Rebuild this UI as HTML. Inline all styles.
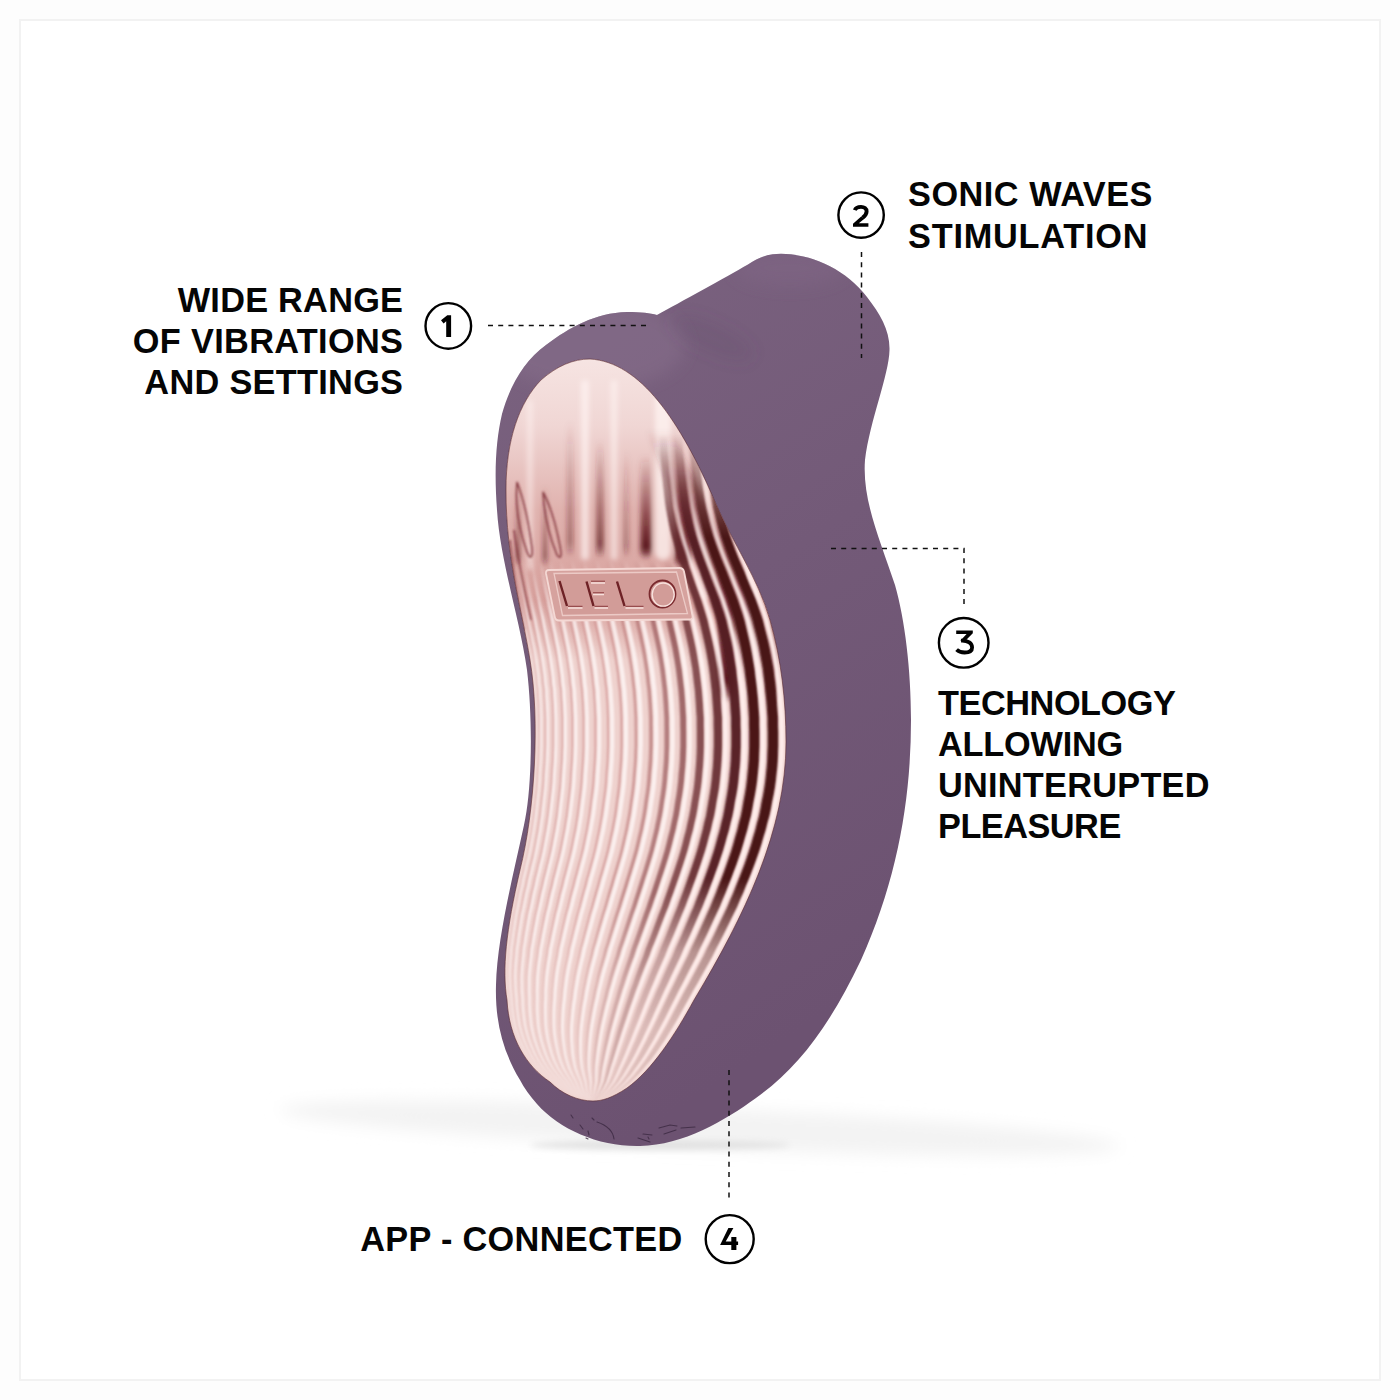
<!DOCTYPE html>
<html><head><meta charset="utf-8">
<style>
html,body{margin:0;padding:0;background:#fdfdfd;}
body{width:1400px;height:1400px;position:relative;overflow:hidden;font-family:"Liberation Sans",sans-serif;}
.frame{position:absolute;left:19px;top:19px;width:1358px;height:1358px;border:2px solid #f2f2f2;background:#fff;}
.t{position:absolute;font-weight:bold;font-size:34.3px;line-height:41px;color:#050505;white-space:nowrap;-webkit-font-smoothing:antialiased;}
.t span{display:block;}
svg{position:absolute;left:0;top:0;}
</style></head><body>
<div class="frame"></div>
<svg width="1400" height="1400" viewBox="0 0 1400 1400">
<defs>
<g id="rd"><path d="M538.5,354.0 537.5,361.0 532.7,368.0 529.4,375.0 526.7,382.0 524.6,389.0 522.9,396.0 521.1,403.0 519.6,410.0 518.1,417.0 516.8,424.0 515.5,431.0 514.6,438.0 513.4,445.0 512.5,452.0 511.9,459.0 511.2,466.0 510.6,473.0 510.1,480.0 509.9,487.0 509.6,494.0 509.4,501.0 509.4,508.0 509.5,515.0 509.5,522.0 509.7,529.0 510.1,536.0 510.6,543.0 511.2,550.0 511.8,557.0 512.5,564.0 513.5,571.0 514.6,578.0 515.7,585.0 516.9,592.0 518.4,599.0 519.6,606.0 521.1,613.0 522.6,620.0 523.9,627.0 525.4,634.0 526.6,641.0 528.1,648.0 529.4,655.0 530.4,662.0 531.4,669.0 532.4,676.0 532.9,683.0 533.9,690.0 534.1,697.0 534.6,704.0 534.9,711.0 535.1,718.0 535.1,725.0 535.1,732.0 535.1,739.0 535.1,746.0 534.9,753.0 534.6,760.0 534.1,767.0 533.6,774.0 533.4,781.0 532.9,788.0 532.1,795.0 531.4,802.0 530.6,809.0 529.9,816.0 528.9,823.0 527.9,830.0 526.6,837.0 525.4,844.0 524.1,851.0 522.6,858.0 520.9,865.0 519.4,872.0 517.6,879.0 516.4,886.0 514.6,893.0 513.4,900.0 512.1,907.0 510.6,914.0 509.6,921.0 508.6,928.0 507.6,935.0 506.9,942.0 505.9,949.0 505.6,956.0 505.1,963.0 504.9,970.0 504.9,977.0 505.4,984.0 505.9,991.0 506.9,998.0 507.4,1005.0 508.3,1012.0 509.6,1019.0 511.1,1026.0 513.3,1033.0 516.1,1040.0 519.6,1047.0 523.3,1054.0 528.1,1061.0 534.1,1068.0 541.6,1075.0 550.5,1082.0 558.8,1089.0 571.8,1096.0 586.0,1100.0 586.0,1100.0 571.9,1096.0 559.0,1089.0 550.8,1082.0 541.8,1075.0 534.4,1068.0 528.4,1061.0 523.7,1054.0 519.9,1047.0 516.5,1040.0 513.7,1033.0 511.5,1026.0 510.0,1019.0 508.8,1012.0 507.8,1005.0 507.3,998.0 506.3,991.0 505.9,984.0 505.4,977.0 505.4,970.0 505.6,963.0 506.2,956.0 506.4,949.0 507.4,942.0 508.2,935.0 509.2,928.0 510.2,921.0 511.2,914.0 512.7,907.0 514.0,900.0 515.2,893.0 517.0,886.0 518.2,879.0 520.0,872.0 521.5,865.0 523.2,858.0 524.7,851.0 526.0,844.0 527.3,837.0 528.5,830.0 529.5,823.0 530.5,816.0 531.3,809.0 532.0,802.0 532.8,795.0 533.5,788.0 534.0,781.0 534.3,774.0 534.8,767.0 535.3,760.0 535.5,753.0 535.8,746.0 535.8,739.0 535.8,732.0 535.8,725.0 535.8,718.0 535.5,711.0 535.3,704.0 534.8,697.0 534.5,690.0 533.5,683.0 533.0,676.0 532.0,669.0 531.0,662.0 530.0,655.0 528.8,648.0 527.3,641.0 526.0,634.0 524.5,627.0 523.3,620.0 521.8,613.0 520.3,606.0 519.0,599.0 517.5,592.0 516.4,585.0 515.2,578.0 514.1,571.0 513.1,564.0 512.3,557.0 511.8,550.0 511.1,543.0 510.7,536.0 510.3,529.0 510.1,522.0 510.1,515.0 509.9,508.0 509.9,501.0 510.2,494.0 510.4,487.0 510.6,480.0 511.2,473.0 511.7,466.0 512.4,459.0 513.0,452.0 513.9,445.0 515.1,438.0 516.0,431.0 517.3,424.0 518.6,417.0 520.1,410.0 521.5,403.0 523.3,396.0 525.1,389.0 527.2,382.0 529.8,375.0 533.1,368.0 538.0,361.0 538.9,354.0Z" fill="#c88282" fill-opacity="0.55"/><path d="M540.9,354.0 540.0,361.0 535.2,368.0 532.0,375.0 529.4,382.0 527.3,389.0 525.6,396.0 523.8,403.0 522.4,410.0 521.0,417.0 519.7,424.0 518.4,431.0 517.5,438.0 516.4,445.0 515.5,452.0 514.9,459.0 514.2,466.0 513.7,473.0 513.2,480.0 513.0,487.0 512.7,494.0 512.5,501.0 512.5,508.0 512.7,515.0 512.7,522.0 512.9,529.0 513.4,536.0 513.8,543.0 514.6,550.0 515.1,557.0 515.9,564.0 517.0,571.0 518.1,578.0 519.2,585.0 520.4,592.0 521.9,599.0 523.2,606.0 524.7,613.0 526.2,620.0 527.5,627.0 529.0,634.0 530.2,641.0 531.7,648.0 533.0,655.0 534.0,662.0 535.0,669.0 536.0,676.0 536.5,683.0 537.5,690.0 537.7,697.0 538.2,704.0 538.5,711.0 538.7,718.0 538.7,725.0 538.8,732.0 538.8,739.0 538.8,746.0 538.5,753.0 538.3,760.0 537.8,767.0 537.2,774.0 537.0,781.0 536.5,788.0 535.7,795.0 535.0,802.0 534.2,809.0 533.4,816.0 532.4,823.0 531.4,830.0 530.2,837.0 528.9,844.0 527.6,851.0 526.1,858.0 524.4,865.0 522.8,872.0 521.1,879.0 519.8,886.0 518.0,893.0 516.7,900.0 515.5,907.0 513.9,914.0 512.9,921.0 511.9,928.0 510.8,935.0 510.0,942.0 509.0,949.0 508.7,956.0 508.1,963.0 507.8,970.0 507.8,977.0 508.2,984.0 508.6,991.0 509.6,998.0 510.0,1005.0 510.9,1012.0 512.1,1019.0 513.5,1026.0 515.7,1033.0 518.3,1040.0 521.7,1047.0 525.3,1054.0 529.9,1061.0 535.7,1068.0 543.0,1075.0 551.7,1082.0 559.7,1089.0 572.3,1096.0 586.2,1100.0 586.3,1100.0 572.5,1096.0 560.0,1089.0 552.1,1082.0 543.4,1075.0 536.2,1068.0 530.4,1061.0 525.9,1054.0 522.3,1047.0 519.0,1040.0 516.4,1033.0 514.2,1026.0 512.8,1019.0 511.7,1012.0 510.8,1005.0 510.4,998.0 509.5,991.0 509.1,984.0 508.7,977.0 508.7,970.0 509.1,963.0 509.6,956.0 509.9,949.0 511.0,942.0 511.8,935.0 512.8,928.0 513.9,921.0 514.9,914.0 516.5,907.0 517.8,900.0 519.1,893.0 520.8,886.0 522.1,879.0 523.9,872.0 525.4,865.0 527.2,858.0 528.7,851.0 530.0,844.0 531.2,837.0 532.5,830.0 533.5,823.0 534.5,816.0 535.3,809.0 536.0,802.0 536.8,795.0 537.6,788.0 538.1,781.0 538.3,774.0 538.8,767.0 539.3,760.0 539.6,753.0 539.8,746.0 539.8,739.0 539.8,732.0 539.8,725.0 539.8,718.0 539.6,711.0 539.3,704.0 538.8,697.0 538.6,690.0 537.6,683.0 537.1,676.0 536.1,669.0 535.1,662.0 534.1,655.0 532.8,648.0 531.3,641.0 530.1,634.0 528.5,627.0 527.3,620.0 525.8,613.0 524.3,606.0 523.0,599.0 521.5,592.0 520.3,585.0 519.1,578.0 518.0,571.0 516.9,564.0 516.1,557.0 515.6,550.0 514.8,543.0 514.4,536.0 513.9,529.0 513.7,522.0 513.7,515.0 513.5,508.0 513.5,501.0 513.7,494.0 513.9,487.0 514.1,480.0 514.6,473.0 515.1,466.0 515.8,459.0 516.4,452.0 517.3,445.0 518.4,438.0 519.3,431.0 520.5,424.0 521.8,417.0 523.3,410.0 524.7,403.0 526.4,396.0 528.1,389.0 530.2,382.0 532.8,375.0 536.0,368.0 540.7,361.0 541.6,354.0Z" fill="#c88282" fill-opacity="0.55"/><path d="M545.0,354.0 544.1,361.0 539.6,368.0 536.5,375.0 533.9,382.0 532.0,389.0 530.3,396.0 528.6,403.0 527.2,410.0 525.8,417.0 524.6,424.0 523.4,431.0 522.5,438.0 521.4,445.0 520.6,452.0 520.0,459.0 519.4,466.0 518.9,473.0 518.4,480.0 518.2,487.0 518.1,494.0 517.9,501.0 517.9,508.0 518.1,515.0 518.2,522.0 518.4,529.0 518.9,536.0 519.5,543.0 520.2,550.0 520.8,557.0 521.7,564.0 522.8,571.0 523.9,578.0 525.1,585.0 526.4,592.0 527.9,599.0 529.2,606.0 530.7,613.0 532.3,620.0 533.5,627.0 535.1,634.0 536.3,641.0 537.8,648.0 539.1,655.0 540.1,662.0 541.1,669.0 542.1,676.0 542.6,683.0 543.6,690.0 543.9,697.0 544.4,704.0 544.6,711.0 544.9,718.0 544.9,725.0 544.9,732.0 544.9,739.0 544.9,746.0 544.6,753.0 544.4,760.0 543.9,767.0 543.4,774.0 543.1,781.0 542.6,788.0 541.8,795.0 541.0,802.0 540.3,809.0 539.5,816.0 538.5,823.0 537.4,830.0 536.1,837.0 534.9,844.0 533.6,851.0 532.0,858.0 530.2,865.0 528.7,872.0 526.9,879.0 525.6,886.0 523.8,893.0 522.5,900.0 521.2,907.0 519.6,914.0 518.5,921.0 517.4,928.0 516.3,935.0 515.4,942.0 514.3,949.0 513.9,956.0 513.3,963.0 512.9,970.0 512.7,977.0 513.1,984.0 513.4,991.0 514.2,998.0 514.5,1005.0 515.3,1012.0 516.3,1019.0 517.6,1026.0 519.6,1033.0 522.1,1040.0 525.2,1047.0 528.6,1054.0 533.0,1061.0 538.5,1068.0 545.4,1075.0 553.8,1082.0 561.3,1089.0 573.3,1096.0 586.5,1100.0 586.6,1100.0 573.5,1096.0 561.7,1089.0 554.2,1082.0 546.0,1075.0 539.1,1068.0 533.7,1061.0 529.4,1054.0 526.0,1047.0 522.9,1040.0 520.5,1033.0 518.5,1026.0 517.3,1019.0 516.3,1012.0 515.5,1005.0 515.2,998.0 514.4,991.0 514.1,984.0 513.8,977.0 514.0,970.0 514.4,963.0 515.1,956.0 515.5,949.0 516.6,942.0 517.5,935.0 518.6,928.0 519.7,921.0 520.8,914.0 522.4,907.0 523.8,900.0 525.1,893.0 526.9,886.0 528.2,879.0 530.0,872.0 531.6,865.0 533.4,858.0 534.9,851.0 536.2,844.0 537.5,837.0 538.8,830.0 539.8,823.0 540.9,816.0 541.6,809.0 542.4,802.0 543.2,795.0 544.0,788.0 544.5,781.0 544.8,774.0 545.3,767.0 545.8,760.0 546.0,753.0 546.3,746.0 546.3,739.0 546.3,732.0 546.3,725.0 546.3,718.0 546.0,711.0 545.7,704.0 545.2,697.0 545.0,690.0 544.0,683.0 543.5,676.0 542.5,669.0 541.5,662.0 540.4,655.0 539.2,648.0 537.7,641.0 536.4,634.0 534.9,627.0 533.6,620.0 532.1,613.0 530.6,606.0 529.3,599.0 527.7,592.0 526.5,585.0 525.3,578.0 524.1,571.0 523.0,564.0 522.1,557.0 521.5,550.0 520.7,543.0 520.2,536.0 519.7,529.0 519.4,522.0 519.3,515.0 519.1,508.0 519.1,501.0 519.3,494.0 519.4,487.0 519.6,480.0 520.1,473.0 520.6,466.0 521.2,459.0 521.7,452.0 522.6,445.0 523.6,438.0 524.5,431.0 525.7,424.0 526.9,417.0 528.3,410.0 529.7,403.0 531.4,396.0 533.0,389.0 535.0,382.0 537.5,375.0 540.6,368.0 545.1,361.0 545.9,354.0Z" fill="#c88282" fill-opacity="0.55"/><path d="M550.2,354.0 549.3,361.0 545.0,368.0 542.1,375.0 539.7,382.0 537.8,389.0 536.2,396.0 534.6,403.0 533.2,410.0 531.9,417.0 530.7,424.0 529.6,431.0 528.8,438.0 527.8,445.0 527.0,452.0 526.4,459.0 525.9,466.0 525.4,473.0 525.0,480.0 524.9,487.0 524.7,494.0 524.6,501.0 524.7,508.0 524.9,515.0 525.0,522.0 525.4,529.0 525.9,536.0 526.5,543.0 527.3,550.0 528.0,557.0 528.9,564.0 530.1,571.0 531.3,578.0 532.6,585.0 533.9,592.0 535.4,599.0 536.8,606.0 538.3,613.0 539.9,620.0 541.2,627.0 542.7,634.0 544.0,641.0 545.5,648.0 546.7,655.0 547.8,662.0 548.8,669.0 549.8,676.0 550.3,683.0 551.3,690.0 551.6,697.0 552.1,704.0 552.3,711.0 552.6,718.0 552.6,725.0 552.6,732.0 552.6,739.0 552.6,746.0 552.4,753.0 552.1,760.0 551.6,767.0 551.1,774.0 550.8,781.0 550.3,788.0 549.5,795.0 548.7,802.0 547.9,809.0 547.1,816.0 546.0,823.0 545.0,830.0 543.7,837.0 542.4,844.0 541.0,851.0 539.5,858.0 537.7,865.0 536.1,872.0 534.3,879.0 532.9,886.0 531.1,893.0 529.7,900.0 528.3,907.0 526.7,914.0 525.5,921.0 524.3,928.0 523.1,935.0 522.2,942.0 521.0,949.0 520.5,956.0 519.7,963.0 519.2,970.0 519.0,977.0 519.1,984.0 519.3,991.0 520.0,998.0 520.1,1005.0 520.8,1012.0 521.7,1019.0 522.8,1026.0 524.5,1033.0 526.8,1040.0 529.7,1047.0 532.8,1054.0 536.8,1061.0 542.0,1068.0 548.5,1075.0 556.3,1082.0 563.4,1089.0 574.5,1096.0 586.9,1100.0 587.0,1100.0 574.8,1096.0 563.8,1089.0 556.9,1082.0 549.1,1075.0 542.7,1068.0 537.7,1061.0 533.7,1054.0 530.6,1047.0 527.8,1040.0 525.6,1033.0 523.8,1026.0 522.8,1019.0 521.9,1012.0 521.3,1005.0 521.2,998.0 520.5,991.0 520.4,984.0 520.3,977.0 520.6,970.0 521.1,963.0 521.9,956.0 522.4,949.0 523.6,942.0 524.6,935.0 525.7,928.0 526.9,921.0 528.1,914.0 529.8,907.0 531.2,900.0 532.6,893.0 534.4,886.0 535.8,879.0 537.6,872.0 539.2,865.0 541.0,858.0 542.6,851.0 543.9,844.0 545.2,837.0 546.5,830.0 547.6,823.0 548.7,816.0 549.5,809.0 550.3,802.0 551.1,795.0 551.9,788.0 552.4,781.0 552.7,774.0 553.2,767.0 553.7,760.0 554.0,753.0 554.2,746.0 554.2,739.0 554.2,732.0 554.2,725.0 554.2,718.0 553.9,711.0 553.7,704.0 553.2,697.0 552.9,690.0 551.9,683.0 551.4,676.0 550.4,669.0 549.4,662.0 548.3,655.0 547.1,648.0 545.6,641.0 544.3,634.0 542.8,627.0 541.5,620.0 539.9,613.0 538.4,606.0 537.0,599.0 535.4,592.0 534.1,585.0 532.9,578.0 531.6,571.0 530.4,564.0 529.5,557.0 528.8,550.0 528.0,543.0 527.4,536.0 526.8,529.0 526.5,522.0 526.4,515.0 526.1,508.0 526.0,501.0 526.1,494.0 526.2,487.0 526.4,480.0 526.8,473.0 527.2,466.0 527.8,459.0 528.3,452.0 529.1,445.0 530.1,438.0 530.9,431.0 532.0,424.0 533.2,417.0 534.5,410.0 535.8,403.0 537.4,396.0 539.0,389.0 540.9,382.0 543.2,375.0 546.2,368.0 550.4,361.0 551.3,354.0Z" fill="#c88282" fill-opacity="0.55"/><path d="M556.2,354.0 555.4,361.0 551.4,368.0 548.6,375.0 546.3,382.0 544.5,389.0 543.1,396.0 541.5,403.0 540.2,410.0 539.0,417.0 537.9,424.0 536.8,431.0 536.1,438.0 535.1,445.0 534.4,452.0 533.9,459.0 533.4,466.0 533.0,473.0 532.7,480.0 532.6,487.0 532.5,494.0 532.4,501.0 532.5,508.0 532.9,515.0 533.0,522.0 533.4,529.0 534.0,536.0 534.7,543.0 535.6,550.0 536.4,557.0 537.4,564.0 538.6,571.0 539.9,578.0 541.2,585.0 542.6,592.0 544.2,599.0 545.6,606.0 547.2,613.0 548.8,620.0 550.1,627.0 551.6,634.0 552.9,641.0 554.4,648.0 555.6,655.0 556.7,662.0 557.7,669.0 558.7,676.0 559.2,683.0 560.2,690.0 560.5,697.0 561.0,704.0 561.3,711.0 561.6,718.0 561.6,725.0 561.6,732.0 561.6,739.0 561.6,746.0 561.3,753.0 561.1,760.0 560.6,767.0 560.1,774.0 559.8,781.0 559.2,788.0 558.4,795.0 557.6,802.0 556.8,809.0 555.9,816.0 554.8,823.0 553.8,830.0 552.4,837.0 551.1,844.0 549.7,851.0 548.1,858.0 546.3,865.0 544.6,872.0 542.8,879.0 541.3,886.0 539.5,893.0 538.0,900.0 536.6,907.0 534.9,914.0 533.6,921.0 532.4,928.0 531.1,935.0 530.0,942.0 528.7,949.0 528.1,956.0 527.3,963.0 526.6,970.0 526.2,977.0 526.2,984.0 526.2,991.0 526.7,998.0 526.7,1005.0 527.2,1012.0 527.9,1019.0 528.8,1026.0 530.3,1033.0 532.3,1040.0 534.9,1047.0 537.7,1054.0 541.4,1061.0 546.1,1068.0 552.1,1075.0 559.3,1082.0 565.7,1089.0 576.0,1096.0 587.4,1100.0 587.5,1100.0 576.2,1096.0 566.2,1089.0 559.9,1082.0 552.8,1075.0 546.9,1068.0 542.3,1061.0 538.7,1054.0 535.9,1047.0 533.4,1040.0 531.4,1033.0 530.0,1026.0 529.1,1019.0 528.5,1012.0 528.0,1005.0 528.0,998.0 527.6,991.0 527.6,984.0 527.6,977.0 528.1,970.0 528.8,963.0 529.7,956.0 530.3,949.0 531.6,942.0 532.7,935.0 534.0,928.0 535.3,921.0 536.5,914.0 538.3,907.0 539.7,900.0 541.2,893.0 543.0,886.0 544.5,879.0 546.4,872.0 548.0,865.0 549.8,858.0 551.5,851.0 552.8,844.0 554.1,837.0 555.5,830.0 556.6,823.0 557.7,816.0 558.5,809.0 559.4,802.0 560.2,795.0 561.0,788.0 561.5,781.0 561.9,774.0 562.4,767.0 562.9,760.0 563.1,753.0 563.4,746.0 563.4,739.0 563.4,732.0 563.4,725.0 563.4,718.0 563.1,711.0 562.8,704.0 562.3,697.0 562.0,690.0 561.0,683.0 560.5,676.0 559.5,669.0 558.5,662.0 557.4,655.0 556.2,648.0 554.7,641.0 553.4,634.0 551.9,627.0 550.5,620.0 549.0,613.0 547.3,606.0 546.0,599.0 544.3,592.0 542.9,585.0 541.6,578.0 540.3,571.0 539.1,564.0 538.1,557.0 537.3,550.0 536.4,543.0 535.7,536.0 535.1,529.0 534.6,522.0 534.5,515.0 534.1,508.0 534.0,501.0 534.1,494.0 534.1,487.0 534.2,480.0 534.6,473.0 535.0,466.0 535.4,459.0 535.9,452.0 536.6,445.0 537.5,438.0 538.3,431.0 539.3,424.0 540.4,417.0 541.7,410.0 542.9,403.0 544.4,396.0 545.9,389.0 547.7,382.0 549.9,375.0 552.7,368.0 556.6,361.0 557.4,354.0Z" fill="#c88282" fill-opacity="0.55"/><path d="M562.9,354.0 562.2,361.0 558.5,368.0 555.9,375.0 553.8,382.0 552.1,389.0 550.7,396.0 549.3,403.0 548.1,410.0 546.9,417.0 545.9,424.0 544.9,431.0 544.3,438.0 543.4,445.0 542.7,452.0 542.3,459.0 541.9,466.0 541.6,473.0 541.3,480.0 541.2,487.0 541.2,494.0 541.2,501.0 541.3,508.0 541.7,515.0 542.0,522.0 542.5,529.0 543.1,536.0 543.9,543.0 544.9,550.0 545.7,557.0 546.8,564.0 548.2,571.0 549.5,578.0 550.9,585.0 552.3,592.0 554.0,599.0 555.4,606.0 557.1,613.0 558.7,620.0 560.0,627.0 561.5,634.0 562.9,641.0 564.4,648.0 565.6,655.0 566.7,662.0 567.7,669.0 568.7,676.0 569.2,683.0 570.2,690.0 570.5,697.0 571.0,704.0 571.3,711.0 571.6,718.0 571.6,725.0 571.6,732.0 571.6,739.0 571.6,746.0 571.4,753.0 571.1,760.0 570.6,767.0 570.1,774.0 569.8,781.0 569.2,788.0 568.4,795.0 567.5,802.0 566.7,809.0 565.8,816.0 564.7,823.0 563.6,830.0 562.2,837.0 560.8,844.0 559.4,851.0 557.8,858.0 555.9,865.0 554.2,872.0 552.3,879.0 550.8,886.0 548.9,893.0 547.4,900.0 545.9,907.0 544.1,914.0 542.7,921.0 541.4,928.0 540.0,935.0 538.8,942.0 537.4,949.0 536.7,956.0 535.7,963.0 534.9,970.0 534.3,977.0 534.1,984.0 533.9,991.0 534.2,998.0 534.1,1005.0 534.3,1012.0 534.8,1019.0 535.5,1026.0 536.7,1033.0 538.4,1040.0 540.7,1047.0 543.2,1054.0 546.4,1061.0 550.6,1068.0 556.1,1075.0 562.6,1082.0 568.3,1089.0 577.6,1096.0 587.9,1100.0 588.0,1100.0 577.9,1096.0 568.8,1089.0 563.3,1082.0 556.9,1075.0 551.5,1068.0 547.4,1061.0 544.2,1054.0 541.8,1047.0 539.6,1040.0 538.0,1033.0 536.8,1026.0 536.2,1019.0 535.7,1012.0 535.5,1005.0 535.7,998.0 535.5,991.0 535.7,984.0 535.9,977.0 536.5,970.0 537.3,963.0 538.4,956.0 539.1,949.0 540.5,942.0 541.7,935.0 543.1,928.0 544.5,921.0 545.9,914.0 547.7,907.0 549.2,900.0 550.8,893.0 552.7,886.0 554.2,879.0 556.1,872.0 557.8,865.0 559.7,858.0 561.3,851.0 562.7,844.0 564.1,837.0 565.5,830.0 566.6,823.0 567.8,816.0 568.6,809.0 569.5,802.0 570.3,795.0 571.2,788.0 571.7,781.0 572.1,774.0 572.6,767.0 573.1,760.0 573.3,753.0 573.6,746.0 573.6,739.0 573.6,732.0 573.6,725.0 573.6,718.0 573.3,711.0 573.0,704.0 572.5,697.0 572.2,690.0 571.2,683.0 570.6,676.0 569.7,669.0 568.6,662.0 567.6,655.0 566.3,648.0 564.8,641.0 563.5,634.0 562.0,627.0 560.6,620.0 559.0,613.0 557.4,606.0 555.9,599.0 554.2,592.0 552.8,585.0 551.4,578.0 550.0,571.0 548.7,564.0 547.6,557.0 546.7,550.0 545.7,543.0 544.9,536.0 544.2,529.0 543.7,522.0 543.5,515.0 543.1,508.0 542.9,501.0 542.9,494.0 542.9,487.0 542.9,480.0 543.2,473.0 543.5,466.0 544.0,459.0 544.3,452.0 545.0,445.0 545.9,438.0 546.5,431.0 547.5,424.0 548.5,417.0 549.6,410.0 550.8,403.0 552.2,396.0 553.6,389.0 555.3,382.0 557.3,375.0 559.9,368.0 563.5,361.0 564.2,354.0Z" fill="#c88282" fill-opacity="0.55"/><path d="M570.3,354.0 569.6,361.0 566.3,368.0 563.9,375.0 561.9,382.0 560.4,389.0 559.1,396.0 557.8,403.0 556.7,410.0 555.6,417.0 554.7,424.0 553.8,431.0 553.2,438.0 552.4,445.0 551.8,452.0 551.5,459.0 551.1,466.0 550.9,473.0 550.6,480.0 550.6,487.0 550.7,494.0 550.7,501.0 551.0,508.0 551.4,515.0 551.8,522.0 552.3,529.0 553.1,536.0 553.9,543.0 555.0,550.0 556.0,557.0 557.1,564.0 558.6,571.0 560.0,578.0 561.4,585.0 563.0,592.0 564.7,599.0 566.2,606.0 567.9,613.0 569.5,620.0 570.9,627.0 572.4,634.0 573.8,641.0 575.3,648.0 576.5,655.0 577.6,662.0 578.6,669.0 579.6,676.0 580.2,683.0 581.1,690.0 581.5,697.0 582.0,704.0 582.3,711.0 582.6,718.0 582.6,725.0 582.6,732.0 582.6,739.0 582.6,746.0 582.4,753.0 582.1,760.0 581.6,767.0 581.1,774.0 580.7,781.0 580.1,788.0 579.3,795.0 578.4,802.0 577.5,809.0 576.6,816.0 575.5,823.0 574.3,830.0 572.9,837.0 571.5,844.0 570.0,851.0 568.4,858.0 566.5,865.0 564.7,872.0 562.8,879.0 561.2,886.0 559.3,893.0 557.6,900.0 556.0,907.0 554.2,914.0 552.7,921.0 551.2,928.0 549.7,935.0 548.4,942.0 546.9,949.0 546.0,956.0 544.9,963.0 543.9,970.0 543.2,977.0 542.8,984.0 542.4,991.0 542.4,998.0 542.1,1005.0 542.1,1012.0 542.4,1019.0 542.8,1026.0 543.8,1033.0 545.1,1040.0 547.0,1047.0 549.1,1054.0 551.9,1061.0 555.6,1068.0 560.4,1075.0 566.3,1082.0 571.2,1089.0 579.3,1096.0 588.5,1100.0 588.6,1100.0 579.6,1096.0 571.7,1089.0 567.0,1082.0 561.3,1075.0 556.6,1068.0 553.0,1061.0 550.3,1054.0 548.3,1047.0 546.4,1040.0 545.1,1033.0 544.2,1026.0 543.9,1019.0 543.7,1012.0 543.6,1005.0 544.0,998.0 544.0,991.0 544.5,984.0 544.9,977.0 545.7,970.0 546.7,963.0 547.8,956.0 548.7,949.0 550.3,942.0 551.6,935.0 553.1,928.0 554.6,921.0 556.1,914.0 558.0,907.0 559.6,900.0 561.3,893.0 563.2,886.0 564.8,879.0 566.8,872.0 568.5,865.0 570.4,858.0 572.1,851.0 573.5,844.0 574.9,837.0 576.4,830.0 577.5,823.0 578.7,816.0 579.6,809.0 580.5,802.0 581.4,795.0 582.2,788.0 582.8,781.0 583.2,774.0 583.7,767.0 584.2,760.0 584.5,753.0 584.7,746.0 584.7,739.0 584.7,732.0 584.7,725.0 584.7,718.0 584.4,711.0 584.1,704.0 583.6,697.0 583.2,690.0 582.3,683.0 581.7,676.0 580.7,669.0 579.7,662.0 578.6,655.0 577.4,648.0 575.9,641.0 574.5,634.0 573.0,627.0 571.6,620.0 570.0,613.0 568.3,606.0 566.8,599.0 565.0,592.0 563.5,585.0 562.0,578.0 560.6,571.0 559.1,564.0 557.9,557.0 557.0,550.0 555.9,543.0 555.0,536.0 554.2,529.0 553.7,522.0 553.3,515.0 552.8,508.0 552.6,501.0 552.5,494.0 552.5,487.0 552.5,480.0 552.7,473.0 552.9,466.0 553.3,459.0 553.6,452.0 554.1,445.0 554.9,438.0 555.5,431.0 556.4,424.0 557.3,417.0 558.3,410.0 559.4,403.0 560.7,396.0 562.0,389.0 563.5,382.0 565.4,375.0 567.8,368.0 571.0,361.0 571.7,354.0Z" fill="#c88282" fill-opacity="0.55"/><path d="M578.2,354.0 577.6,361.0 574.7,368.0 572.5,375.0 570.7,382.0 569.3,389.0 568.2,396.0 566.9,403.0 565.9,410.0 565.0,417.0 564.1,424.0 563.3,431.0 562.8,438.0 562.1,445.0 561.6,452.0 561.4,459.0 561.1,466.0 560.9,473.0 560.8,480.0 560.8,487.0 560.9,494.0 561.1,501.0 561.3,508.0 561.9,515.0 562.3,522.0 562.9,529.0 563.8,536.0 564.7,543.0 565.9,550.0 567.0,557.0 568.3,564.0 569.8,571.0 571.3,578.0 572.8,585.0 574.5,592.0 576.3,599.0 577.8,606.0 579.6,613.0 581.2,620.0 582.6,627.0 584.2,634.0 585.5,641.0 587.0,648.0 588.3,655.0 589.3,662.0 590.4,669.0 591.3,676.0 592.0,683.0 592.9,690.0 593.3,697.0 593.8,704.0 594.1,711.0 594.4,718.0 594.4,725.0 594.4,732.0 594.4,739.0 594.4,746.0 594.2,753.0 593.9,760.0 593.4,767.0 592.9,774.0 592.5,781.0 591.9,788.0 591.0,795.0 590.1,802.0 589.2,809.0 588.3,816.0 587.1,823.0 585.9,830.0 584.4,837.0 583.0,844.0 581.5,851.0 579.8,858.0 577.8,865.0 576.0,872.0 574.0,879.0 572.4,886.0 570.4,893.0 568.7,900.0 567.0,907.0 565.0,914.0 563.4,921.0 561.8,928.0 560.3,935.0 558.8,942.0 557.1,949.0 556.1,956.0 554.8,963.0 553.6,970.0 552.7,977.0 552.1,984.0 551.5,991.0 551.3,998.0 550.8,1005.0 550.6,1012.0 550.6,1019.0 550.7,1026.0 551.4,1033.0 552.4,1040.0 553.9,1047.0 555.6,1054.0 557.9,1061.0 561.0,1068.0 565.1,1075.0 570.2,1082.0 574.3,1089.0 581.2,1096.0 589.1,1100.0 589.2,1100.0 581.5,1096.0 574.9,1089.0 570.9,1082.0 566.1,1075.0 562.0,1068.0 559.0,1061.0 556.8,1054.0 555.2,1047.0 553.8,1040.0 552.8,1033.0 552.2,1026.0 552.1,1019.0 552.2,1012.0 552.4,1005.0 553.0,998.0 553.3,991.0 553.9,984.0 554.5,977.0 555.5,970.0 556.7,963.0 558.0,956.0 559.1,949.0 560.8,942.0 562.3,935.0 563.9,928.0 565.5,921.0 567.1,914.0 569.1,907.0 570.8,900.0 572.5,893.0 574.5,886.0 576.2,879.0 578.2,872.0 580.0,865.0 581.9,858.0 583.7,851.0 585.2,844.0 586.6,837.0 588.1,830.0 589.3,823.0 590.5,816.0 591.5,809.0 592.3,802.0 593.3,795.0 594.2,788.0 594.8,781.0 595.2,774.0 595.7,767.0 596.2,760.0 596.5,753.0 596.7,746.0 596.7,739.0 596.7,732.0 596.7,725.0 596.7,718.0 596.3,711.0 596.0,704.0 595.5,697.0 595.2,690.0 594.2,683.0 593.6,676.0 592.7,669.0 591.6,662.0 590.5,655.0 589.3,648.0 587.8,641.0 586.4,634.0 584.8,627.0 583.5,620.0 581.8,613.0 580.0,606.0 578.5,599.0 576.7,592.0 575.0,585.0 573.5,578.0 572.0,571.0 570.4,564.0 569.1,557.0 568.0,550.0 566.8,543.0 565.8,536.0 565.0,529.0 564.3,522.0 563.9,515.0 563.3,508.0 563.0,501.0 562.9,494.0 562.8,487.0 562.7,480.0 562.8,473.0 563.0,466.0 563.3,459.0 563.5,452.0 564.0,445.0 564.7,438.0 565.2,431.0 566.0,424.0 566.8,417.0 567.7,410.0 568.7,403.0 569.9,396.0 571.0,389.0 572.4,382.0 574.1,375.0 576.3,368.0 579.1,361.0 579.7,354.0Z" fill="#c88282" fill-opacity="0.55"/><path d="M586.7,354.0 586.1,361.0 583.6,368.0 581.7,375.0 580.1,382.0 578.8,389.0 577.8,396.0 576.7,403.0 575.8,410.0 574.9,417.0 574.2,424.0 573.5,431.0 573.1,438.0 572.5,445.0 572.1,452.0 571.9,459.0 571.7,466.0 571.6,473.0 571.5,480.0 571.7,487.0 571.9,494.0 572.1,501.0 572.4,508.0 573.0,515.0 573.5,522.0 574.3,529.0 575.2,536.0 576.3,543.0 577.6,550.0 578.7,557.0 580.1,564.0 581.8,571.0 583.3,578.0 585.0,585.0 586.7,592.0 588.6,599.0 590.2,606.0 592.0,613.0 593.7,620.0 595.1,627.0 596.7,634.0 598.1,641.0 599.6,648.0 600.8,655.0 601.9,662.0 603.0,669.0 603.9,676.0 604.5,683.0 605.5,690.0 605.9,697.0 606.4,704.0 606.7,711.0 607.0,718.0 607.0,725.0 607.1,732.0 607.1,739.0 607.1,746.0 606.8,753.0 606.6,760.0 606.1,767.0 605.5,774.0 605.1,781.0 604.5,788.0 603.6,795.0 602.6,802.0 601.7,809.0 600.7,816.0 599.5,823.0 598.2,830.0 596.7,837.0 595.2,844.0 593.7,851.0 591.9,858.0 589.9,865.0 588.1,872.0 586.0,879.0 584.3,886.0 582.3,893.0 580.4,900.0 578.7,907.0 576.6,914.0 574.9,921.0 573.2,928.0 571.5,935.0 569.8,942.0 568.0,949.0 566.9,956.0 565.4,963.0 564.0,970.0 562.9,977.0 562.1,984.0 561.2,991.0 560.8,998.0 560.0,1005.0 559.6,1012.0 559.3,1019.0 559.1,1026.0 559.5,1033.0 560.1,1040.0 561.2,1047.0 562.4,1054.0 564.2,1061.0 566.7,1068.0 570.2,1075.0 574.4,1082.0 577.6,1089.0 583.2,1096.0 589.7,1100.0 589.9,1100.0 583.6,1096.0 578.2,1089.0 575.2,1082.0 571.1,1075.0 567.8,1068.0 565.4,1061.0 563.7,1054.0 562.6,1047.0 561.6,1040.0 561.0,1033.0 560.7,1026.0 561.0,1019.0 561.3,1012.0 561.8,1005.0 562.6,998.0 563.1,991.0 564.0,984.0 564.8,977.0 566.0,970.0 567.4,963.0 568.9,956.0 570.1,949.0 571.9,942.0 573.6,935.0 575.3,928.0 577.1,921.0 578.8,914.0 580.9,907.0 582.7,900.0 584.5,893.0 586.6,886.0 588.3,879.0 590.4,872.0 592.3,865.0 594.2,858.0 596.0,851.0 597.6,844.0 599.0,837.0 600.6,830.0 601.8,823.0 603.1,816.0 604.1,809.0 605.0,802.0 606.0,795.0 606.9,788.0 607.5,781.0 607.9,774.0 608.5,767.0 609.0,760.0 609.2,753.0 609.5,746.0 609.5,739.0 609.5,732.0 609.4,725.0 609.4,718.0 609.1,711.0 608.8,704.0 608.3,697.0 607.9,690.0 606.9,683.0 606.3,676.0 605.4,669.0 604.3,662.0 603.2,655.0 602.0,648.0 600.5,641.0 599.1,634.0 597.5,627.0 596.1,620.0 594.4,613.0 592.6,606.0 590.9,599.0 589.0,592.0 587.3,585.0 585.6,578.0 584.1,571.0 582.4,564.0 581.0,557.0 579.8,550.0 578.5,543.0 577.4,536.0 576.4,529.0 575.7,522.0 575.2,515.0 574.5,508.0 574.1,501.0 573.9,494.0 573.7,487.0 573.6,480.0 573.6,473.0 573.7,466.0 573.9,459.0 574.0,452.0 574.4,445.0 575.0,438.0 575.5,431.0 576.1,424.0 576.8,417.0 577.7,410.0 578.6,403.0 579.6,396.0 580.6,389.0 581.9,382.0 583.4,375.0 585.3,368.0 587.8,361.0 588.3,354.0Z" fill="#c88282" fill-opacity="0.55"/><path d="M595.6,354.0 595.1,361.0 593.1,368.0 591.4,375.0 590.0,382.0 588.9,389.0 588.0,396.0 587.0,403.0 586.2,410.0 585.5,417.0 584.9,424.0 584.3,431.0 584.0,438.0 583.4,445.0 583.1,452.0 583.1,459.0 582.9,466.0 582.9,473.0 582.9,480.0 583.1,487.0 583.4,494.0 583.7,501.0 584.1,508.0 584.8,515.0 585.4,522.0 586.3,529.0 587.3,536.0 588.5,543.0 589.9,550.0 591.2,557.0 592.7,564.0 594.4,571.0 596.1,578.0 597.8,585.0 599.7,592.0 601.6,599.0 603.3,606.0 605.1,613.0 606.9,620.0 608.3,627.0 609.9,634.0 611.3,641.0 612.8,648.0 614.1,655.0 615.2,662.0 616.2,669.0 617.2,676.0 617.8,683.0 618.7,690.0 619.2,697.0 619.7,704.0 620.0,711.0 620.3,718.0 620.3,725.0 620.4,732.0 620.4,739.0 620.4,746.0 620.2,753.0 619.9,760.0 619.4,767.0 618.8,774.0 618.4,781.0 617.7,788.0 616.8,795.0 615.8,802.0 614.9,809.0 613.9,816.0 612.6,823.0 611.3,830.0 609.7,837.0 608.2,844.0 606.6,851.0 604.8,858.0 602.8,865.0 600.8,872.0 598.7,879.0 596.9,886.0 594.8,893.0 592.9,900.0 591.0,907.0 588.9,914.0 587.0,921.0 585.1,928.0 583.3,935.0 581.5,942.0 579.6,949.0 578.2,956.0 576.5,963.0 575.0,970.0 573.6,977.0 572.6,984.0 571.5,991.0 570.8,998.0 569.8,1005.0 569.1,1012.0 568.5,1019.0 568.1,1026.0 568.0,1033.0 568.3,1040.0 568.9,1047.0 569.7,1054.0 570.9,1061.0 572.7,1068.0 575.5,1075.0 578.8,1082.0 581.1,1089.0 585.3,1096.0 590.4,1100.0 590.6,1100.0 585.7,1096.0 581.8,1089.0 579.7,1082.0 576.6,1075.0 574.0,1068.0 572.3,1061.0 571.1,1054.0 570.5,1047.0 569.9,1040.0 569.7,1033.0 569.9,1026.0 570.4,1019.0 571.0,1012.0 571.7,1005.0 572.8,998.0 573.6,991.0 574.7,984.0 575.8,977.0 577.2,970.0 578.8,963.0 580.5,956.0 581.9,949.0 583.9,942.0 585.7,935.0 587.6,928.0 589.4,921.0 591.3,914.0 593.5,907.0 595.4,900.0 597.3,893.0 599.4,886.0 601.3,879.0 603.4,872.0 605.4,865.0 607.4,858.0 609.2,851.0 610.8,844.0 612.3,837.0 613.9,830.0 615.2,823.0 616.6,816.0 617.6,809.0 618.5,802.0 619.5,795.0 620.4,788.0 621.1,781.0 621.5,774.0 622.1,767.0 622.6,760.0 622.9,753.0 623.1,746.0 623.1,739.0 623.1,732.0 623.0,725.0 623.0,718.0 622.7,711.0 622.4,704.0 621.9,697.0 621.4,690.0 620.5,683.0 619.8,676.0 618.9,669.0 617.8,662.0 616.8,655.0 615.5,648.0 614.0,641.0 612.6,634.0 611.0,627.0 609.6,620.0 607.8,613.0 606.0,606.0 604.3,599.0 602.3,592.0 600.4,585.0 598.7,578.0 597.0,571.0 595.2,564.0 593.7,557.0 592.3,550.0 590.9,543.0 589.8,536.0 588.7,529.0 587.8,522.0 587.2,515.0 586.5,508.0 586.0,501.0 585.8,494.0 585.4,487.0 585.2,480.0 585.2,473.0 585.2,466.0 585.3,459.0 585.3,452.0 585.6,445.0 586.2,438.0 586.5,431.0 587.0,424.0 587.6,417.0 588.3,410.0 589.1,403.0 590.1,396.0 590.9,389.0 592.0,382.0 593.4,375.0 595.0,368.0 597.0,361.0 597.4,354.0Z" fill="#c47e7f" fill-opacity="0.56"/><path d="M605.0,354.0 604.6,361.0 603.0,368.0 601.6,375.0 600.4,382.0 599.5,389.0 598.7,396.0 597.9,403.0 597.2,410.0 596.6,417.0 596.1,424.0 595.6,431.0 595.4,438.0 595.0,445.0 594.7,452.0 594.8,459.0 594.8,466.0 594.8,473.0 594.9,480.0 595.2,487.0 595.6,494.0 595.9,501.0 596.4,508.0 597.2,515.0 597.9,522.0 598.9,529.0 600.0,536.0 601.3,543.0 602.8,550.0 604.2,557.0 605.9,564.0 607.7,571.0 609.5,578.0 611.4,585.0 613.3,592.0 615.3,599.0 617.1,606.0 619.0,613.0 620.8,620.0 622.2,627.0 623.8,634.0 625.3,641.0 626.8,648.0 628.0,655.0 629.1,662.0 630.2,669.0 631.1,676.0 631.8,683.0 632.7,690.0 633.2,697.0 633.7,704.0 634.0,711.0 634.4,718.0 634.4,725.0 634.5,732.0 634.5,739.0 634.5,746.0 634.2,753.0 634.0,760.0 633.5,767.0 632.9,774.0 632.4,781.0 631.7,788.0 630.8,795.0 629.7,802.0 628.8,809.0 627.7,816.0 626.3,823.0 625.0,830.0 623.4,837.0 621.8,844.0 620.2,851.0 618.3,858.0 616.2,865.0 614.2,872.0 612.1,879.0 610.1,886.0 608.0,893.0 606.0,900.0 604.0,907.0 601.7,914.0 599.7,921.0 597.7,928.0 595.7,935.0 593.8,942.0 591.7,949.0 590.2,956.0 588.3,963.0 586.6,970.0 585.0,977.0 583.7,984.0 582.3,991.0 581.3,998.0 580.0,1005.0 579.0,1012.0 578.2,1019.0 577.4,1026.0 577.0,1033.0 576.9,1040.0 577.0,1047.0 577.3,1054.0 578.0,1061.0 579.1,1068.0 581.1,1075.0 583.4,1082.0 584.7,1089.0 587.5,1096.0 591.2,1100.0 591.3,1100.0 588.0,1096.0 585.6,1089.0 584.5,1082.0 582.4,1075.0 580.6,1068.0 579.6,1061.0 579.1,1054.0 578.9,1047.0 578.9,1040.0 579.1,1033.0 579.6,1026.0 580.5,1019.0 581.4,1012.0 582.4,1005.0 583.7,998.0 584.8,991.0 586.2,984.0 587.6,977.0 589.2,970.0 591.0,963.0 592.9,956.0 594.5,949.0 596.6,942.0 598.6,935.0 600.6,928.0 602.7,921.0 604.7,914.0 607.0,907.0 609.0,900.0 611.1,893.0 613.2,886.0 615.2,879.0 617.3,872.0 619.3,865.0 621.4,858.0 623.3,851.0 625.0,844.0 626.5,837.0 628.2,830.0 629.5,823.0 630.9,816.0 632.0,809.0 632.9,802.0 634.0,795.0 634.9,788.0 635.6,781.0 636.1,774.0 636.7,767.0 637.2,760.0 637.4,753.0 637.7,746.0 637.7,739.0 637.7,732.0 637.6,725.0 637.6,718.0 637.2,711.0 636.9,704.0 636.4,697.0 635.9,690.0 635.0,683.0 634.3,676.0 633.4,669.0 632.3,662.0 631.2,655.0 630.0,648.0 628.5,641.0 627.0,634.0 625.4,627.0 624.0,620.0 622.2,613.0 620.2,606.0 618.5,599.0 616.4,592.0 614.5,585.0 612.6,578.0 610.8,571.0 608.9,564.0 607.3,557.0 605.8,550.0 604.3,543.0 602.9,536.0 601.8,529.0 600.8,522.0 600.1,515.0 599.3,508.0 598.7,501.0 598.4,494.0 598.0,487.0 597.7,480.0 597.5,473.0 597.5,466.0 597.5,459.0 597.4,452.0 597.6,445.0 598.0,438.0 598.2,431.0 598.7,424.0 599.2,417.0 599.7,410.0 600.4,403.0 601.2,396.0 601.9,389.0 602.8,382.0 604.0,375.0 605.3,368.0 606.8,361.0 607.2,354.0Z" fill="#bb7677" fill-opacity="0.60"/><path d="M614.9,354.0 614.5,361.0 613.4,368.0 612.3,375.0 611.3,382.0 610.5,389.0 609.9,396.0 609.3,403.0 608.7,410.0 608.2,417.0 607.8,424.0 607.5,431.0 607.3,438.0 607.0,445.0 606.9,452.0 607.0,459.0 607.1,466.0 607.2,473.0 607.5,480.0 607.8,487.0 608.3,494.0 608.7,501.0 609.3,508.0 610.2,515.0 611.0,522.0 612.1,529.0 613.3,536.0 614.7,543.0 616.3,550.0 617.9,557.0 619.7,564.0 621.7,571.0 623.5,578.0 625.5,585.0 627.5,592.0 629.6,599.0 631.5,606.0 633.4,613.0 635.3,620.0 636.7,627.0 638.4,634.0 639.8,641.0 641.3,648.0 642.6,655.0 643.7,662.0 644.8,669.0 645.7,676.0 646.4,683.0 647.3,690.0 647.8,697.0 648.3,704.0 648.7,711.0 649.0,718.0 649.0,725.0 649.1,732.0 649.1,739.0 649.1,746.0 648.9,753.0 648.6,760.0 648.1,767.0 647.5,774.0 647.0,781.0 646.3,788.0 645.3,795.0 644.2,802.0 643.3,809.0 642.2,816.0 640.7,823.0 639.4,830.0 637.7,837.0 636.1,844.0 634.4,851.0 632.4,858.0 630.3,865.0 628.3,872.0 626.1,879.0 624.0,886.0 621.8,893.0 619.6,900.0 617.6,907.0 615.2,914.0 613.0,921.0 610.9,928.0 608.8,935.0 606.7,942.0 604.4,949.0 602.7,956.0 600.6,963.0 598.6,970.0 596.8,977.0 595.3,984.0 593.6,991.0 592.3,998.0 590.8,1005.0 589.5,1012.0 588.4,1019.0 587.2,1026.0 586.4,1033.0 585.9,1040.0 585.5,1047.0 585.3,1054.0 585.3,1061.0 585.8,1068.0 586.9,1075.0 588.3,1082.0 588.6,1089.0 589.8,1096.0 591.9,1100.0 592.1,1100.0 590.5,1096.0 589.6,1089.0 589.6,1082.0 588.5,1075.0 587.6,1068.0 587.4,1061.0 587.5,1054.0 587.8,1047.0 588.3,1040.0 589.0,1033.0 589.9,1026.0 591.1,1019.0 592.4,1012.0 593.7,1005.0 595.3,998.0 596.7,991.0 598.4,984.0 600.1,977.0 601.9,970.0 604.0,963.0 606.1,956.0 607.9,949.0 610.2,942.0 612.3,935.0 614.5,928.0 616.7,921.0 618.9,914.0 621.3,907.0 623.4,900.0 625.6,893.0 627.8,886.0 629.9,879.0 632.1,872.0 634.2,865.0 636.3,858.0 638.3,851.0 640.0,844.0 641.6,837.0 643.3,830.0 644.7,823.0 646.1,816.0 647.2,809.0 648.2,802.0 649.3,795.0 650.3,788.0 651.1,781.0 651.5,774.0 652.2,767.0 652.7,760.0 652.9,753.0 653.2,746.0 653.2,739.0 653.2,732.0 653.0,725.0 653.0,718.0 652.7,711.0 652.3,704.0 651.8,697.0 651.3,690.0 650.4,683.0 649.7,676.0 648.8,669.0 647.7,662.0 646.6,655.0 645.3,648.0 643.8,641.0 642.4,634.0 640.7,627.0 639.2,620.0 637.4,613.0 635.4,606.0 633.6,599.0 631.4,592.0 629.4,585.0 627.4,578.0 625.5,571.0 623.5,564.0 621.7,557.0 620.0,550.0 618.4,543.0 616.9,536.0 615.7,529.0 614.6,522.0 613.8,515.0 612.8,508.0 612.2,501.0 611.7,494.0 611.3,487.0 610.9,480.0 610.6,473.0 610.5,466.0 610.4,459.0 610.2,452.0 610.3,445.0 610.6,438.0 610.7,431.0 611.0,424.0 611.4,417.0 611.8,410.0 612.4,403.0 613.0,396.0 613.6,389.0 614.3,382.0 615.2,375.0 616.3,368.0 617.3,361.0 617.6,354.0Z" fill="#ae6a6c" fill-opacity="0.64"/><path d="M625.1,354.0 624.9,361.0 624.2,368.0 623.4,375.0 622.7,382.0 622.0,389.0 621.6,396.0 621.1,403.0 620.6,410.0 620.3,417.0 620.0,424.0 619.8,431.0 619.8,438.0 619.6,445.0 619.5,452.0 619.8,459.0 620.0,466.0 620.2,473.0 620.5,480.0 620.9,487.0 621.5,494.0 622.0,501.0 622.7,508.0 623.7,515.0 624.6,522.0 625.8,529.0 627.1,536.0 628.7,543.0 630.4,550.0 632.1,557.0 634.1,564.0 636.2,571.0 638.1,578.0 640.2,585.0 642.3,592.0 644.6,599.0 646.5,606.0 648.5,613.0 650.4,620.0 651.9,627.0 653.5,634.0 655.0,641.0 656.5,648.0 657.8,655.0 658.9,662.0 660.0,669.0 660.9,676.0 661.7,683.0 662.5,690.0 663.0,697.0 663.5,704.0 663.9,711.0 664.3,718.0 664.3,725.0 664.4,732.0 664.4,739.0 664.4,746.0 664.2,753.0 663.9,760.0 663.4,767.0 662.8,774.0 662.3,781.0 661.5,788.0 660.5,795.0 659.4,802.0 658.4,809.0 657.2,816.0 655.7,823.0 654.3,830.0 652.6,837.0 650.9,844.0 649.2,851.0 647.1,858.0 645.0,865.0 642.9,872.0 640.6,879.0 638.4,886.0 636.2,893.0 633.9,900.0 631.7,907.0 629.2,914.0 626.9,921.0 624.6,928.0 622.3,935.0 620.0,942.0 617.6,949.0 615.7,956.0 613.4,963.0 611.2,970.0 609.1,977.0 607.3,984.0 605.4,991.0 603.8,998.0 602.0,1005.0 600.4,1012.0 598.9,1019.0 597.5,1026.0 596.2,1033.0 595.2,1040.0 594.3,1047.0 593.6,1054.0 593.0,1061.0 592.7,1068.0 593.0,1075.0 593.3,1082.0 592.6,1089.0 592.3,1096.0 592.7,1100.0 593.0,1100.0 593.1,1096.0 593.9,1089.0 595.0,1082.0 595.0,1075.0 595.0,1068.0 595.6,1061.0 596.3,1054.0 597.3,1047.0 598.3,1040.0 599.4,1033.0 600.8,1026.0 602.4,1019.0 604.0,1012.0 605.6,1005.0 607.6,998.0 609.2,991.0 611.3,984.0 613.2,977.0 615.3,970.0 617.6,963.0 620.0,956.0 622.0,949.0 624.5,942.0 626.8,935.0 629.2,928.0 631.5,921.0 633.8,914.0 636.4,907.0 638.6,900.0 640.9,893.0 643.2,886.0 645.4,879.0 647.7,872.0 649.8,865.0 652.0,858.0 654.0,851.0 655.8,844.0 657.5,837.0 659.3,830.0 660.7,823.0 662.2,816.0 663.4,809.0 664.4,802.0 665.5,795.0 666.5,788.0 667.3,781.0 667.8,774.0 668.5,767.0 669.0,760.0 669.2,753.0 669.5,746.0 669.5,739.0 669.5,732.0 669.3,725.0 669.3,718.0 668.9,711.0 668.6,704.0 668.1,697.0 667.5,690.0 666.7,683.0 665.9,676.0 665.0,669.0 663.9,662.0 662.8,655.0 661.5,648.0 660.0,641.0 658.5,634.0 656.9,627.0 655.4,620.0 653.4,613.0 651.4,606.0 649.5,599.0 647.2,592.0 645.1,585.0 643.0,578.0 641.0,571.0 638.8,564.0 636.8,557.0 635.1,550.0 633.3,543.0 631.7,536.0 630.3,529.0 629.1,522.0 628.2,515.0 627.1,508.0 626.4,501.0 625.8,494.0 625.3,487.0 624.8,480.0 624.5,473.0 624.2,466.0 624.0,459.0 623.7,452.0 623.7,445.0 623.9,438.0 623.9,431.0 624.0,424.0 624.3,417.0 624.6,410.0 625.0,403.0 625.5,396.0 625.8,389.0 626.4,382.0 627.1,375.0 627.8,368.0 628.3,361.0 628.5,354.0Z" fill="#9c5b5d" fill-opacity="0.71"/><path d="M635.8,354.0 635.6,361.0 635.5,368.0 634.9,375.0 634.5,382.0 634.0,389.0 633.8,396.0 633.4,403.0 633.0,410.0 632.8,417.0 632.7,424.0 632.6,431.0 632.7,438.0 632.6,445.0 632.7,452.0 633.1,459.0 633.3,466.0 633.6,473.0 634.1,480.0 634.6,487.0 635.2,494.0 635.8,501.0 636.6,508.0 637.7,515.0 638.7,522.0 640.0,529.0 641.5,536.0 643.2,543.0 645.0,550.0 646.9,557.0 649.0,564.0 651.2,571.0 653.3,578.0 655.5,585.0 657.7,592.0 660.1,599.0 662.0,606.0 664.1,613.0 666.1,620.0 667.6,627.0 669.2,634.0 670.8,641.0 672.3,648.0 673.5,655.0 674.7,662.0 675.8,669.0 676.7,676.0 677.5,683.0 678.3,690.0 678.9,697.0 679.4,704.0 679.7,711.0 680.1,718.0 680.1,725.0 680.3,732.0 680.3,739.0 680.3,746.0 680.0,753.0 679.8,760.0 679.3,767.0 678.6,774.0 678.1,781.0 677.3,788.0 676.3,795.0 675.1,802.0 674.1,809.0 672.9,816.0 671.3,823.0 669.9,830.0 668.0,837.0 666.3,844.0 664.5,851.0 662.4,858.0 660.2,865.0 658.0,872.0 655.7,879.0 653.4,886.0 651.1,893.0 648.7,900.0 646.4,907.0 643.8,914.0 641.3,921.0 638.9,928.0 636.4,935.0 633.9,942.0 631.3,949.0 629.2,956.0 626.7,963.0 624.3,970.0 621.9,977.0 619.8,984.0 617.6,991.0 615.7,998.0 613.6,1005.0 611.7,1012.0 609.9,1019.0 608.1,1026.0 606.4,1033.0 604.9,1040.0 603.5,1047.0 602.2,1054.0 601.0,1061.0 599.9,1068.0 599.3,1075.0 598.6,1082.0 596.7,1089.0 594.8,1096.0 593.5,1100.0 593.9,1100.0 595.8,1096.0 598.3,1089.0 600.7,1082.0 601.8,1075.0 602.7,1068.0 604.1,1061.0 605.6,1054.0 607.1,1047.0 608.8,1040.0 610.4,1033.0 612.2,1026.0 614.2,1019.0 616.1,1012.0 618.1,1005.0 620.3,998.0 622.4,991.0 624.7,984.0 627.0,977.0 629.4,970.0 631.9,963.0 634.5,956.0 636.7,949.0 639.4,942.0 641.9,935.0 644.5,928.0 647.0,921.0 649.5,914.0 652.2,907.0 654.5,900.0 657.0,893.0 659.3,886.0 661.6,879.0 664.0,872.0 666.2,865.0 668.4,858.0 670.5,851.0 672.4,844.0 674.1,837.0 675.9,830.0 677.4,823.0 679.0,816.0 680.2,809.0 681.3,802.0 682.5,795.0 683.5,788.0 684.3,781.0 684.9,774.0 685.5,767.0 686.0,760.0 686.3,753.0 686.5,746.0 686.5,739.0 686.5,732.0 686.4,725.0 686.4,718.0 686.0,711.0 685.6,704.0 685.1,697.0 684.5,690.0 683.7,683.0 682.9,676.0 682.0,669.0 680.9,662.0 679.7,655.0 678.5,648.0 677.0,641.0 675.4,634.0 673.8,627.0 672.2,620.0 670.3,613.0 668.1,606.0 666.1,599.0 663.8,592.0 661.5,585.0 659.3,578.0 657.1,571.0 654.8,564.0 652.7,557.0 650.8,550.0 648.9,543.0 647.1,536.0 645.6,529.0 644.3,522.0 643.2,515.0 642.0,508.0 641.3,501.0 640.6,494.0 639.9,487.0 639.4,480.0 638.9,473.0 638.6,466.0 638.3,459.0 637.8,452.0 637.7,445.0 637.7,438.0 637.6,431.0 637.7,424.0 637.7,417.0 637.9,410.0 638.2,403.0 638.5,396.0 638.7,389.0 639.1,382.0 639.5,375.0 639.9,368.0 639.8,361.0 639.9,354.0Z" fill="#894a4d" fill-opacity="0.77"/><path d="M646.8,354.0 646.7,361.0 647.1,368.0 646.9,375.0 646.7,382.0 646.4,389.0 646.3,396.0 646.1,403.0 645.9,410.0 645.8,417.0 645.8,424.0 645.9,431.0 646.0,438.0 646.1,445.0 646.3,452.0 646.8,459.0 647.1,466.0 647.5,473.0 648.1,480.0 648.7,487.0 649.4,494.0 650.1,501.0 651.0,508.0 652.2,515.0 653.4,522.0 654.8,529.0 656.4,536.0 658.2,543.0 660.2,550.0 662.2,557.0 664.4,564.0 666.8,571.0 669.0,578.0 671.3,585.0 673.7,592.0 676.1,599.0 678.2,606.0 680.3,613.0 682.3,620.0 683.9,627.0 685.5,634.0 687.1,641.0 688.6,648.0 689.8,655.0 691.0,662.0 692.2,669.0 693.0,676.0 693.8,683.0 694.7,690.0 695.2,697.0 695.7,704.0 696.1,711.0 696.6,718.0 696.6,725.0 696.7,732.0 696.7,739.0 696.7,746.0 696.5,753.0 696.2,760.0 695.7,767.0 695.1,774.0 694.5,781.0 693.7,788.0 692.6,795.0 691.4,802.0 690.3,809.0 689.0,816.0 687.4,823.0 685.9,830.0 684.0,837.0 682.3,844.0 680.4,851.0 678.3,858.0 676.0,865.0 673.7,872.0 671.3,879.0 668.9,886.0 666.5,893.0 664.0,900.0 661.6,907.0 658.8,914.0 656.2,921.0 653.6,928.0 651.0,935.0 648.3,942.0 645.5,949.0 643.2,956.0 640.4,963.0 637.8,970.0 635.2,977.0 632.8,984.0 630.2,991.0 628.0,998.0 625.6,1005.0 623.4,1012.0 621.2,1019.0 619.0,1026.0 616.9,1033.0 615.0,1040.0 613.0,1047.0 611.1,1054.0 609.3,1061.0 607.4,1068.0 605.8,1075.0 604.0,1082.0 601.0,1089.0 597.4,1096.0 594.4,1100.0 594.8,1100.0 598.6,1096.0 603.0,1089.0 606.5,1082.0 608.8,1075.0 610.8,1068.0 613.0,1061.0 615.2,1054.0 617.4,1047.0 619.6,1040.0 621.7,1033.0 624.0,1026.0 626.4,1019.0 628.7,1012.0 631.1,1005.0 633.6,998.0 636.0,991.0 638.7,984.0 641.2,977.0 643.9,970.0 646.7,963.0 649.6,956.0 652.0,949.0 654.9,942.0 657.7,935.0 660.3,928.0 663.0,921.0 665.7,914.0 668.6,907.0 671.0,900.0 673.6,893.0 676.0,886.0 678.5,879.0 680.9,872.0 683.2,865.0 685.5,858.0 687.7,851.0 689.6,844.0 691.3,837.0 693.3,830.0 694.8,823.0 696.4,816.0 697.7,809.0 698.8,802.0 700.0,795.0 701.1,788.0 702.0,781.0 702.6,774.0 703.2,767.0 703.7,760.0 704.0,753.0 704.2,746.0 704.2,739.0 704.2,732.0 704.1,725.0 704.1,718.0 703.6,711.0 703.2,704.0 702.7,697.0 702.1,690.0 701.3,683.0 700.5,676.0 699.6,669.0 698.5,662.0 697.3,655.0 696.0,648.0 694.5,641.0 693.0,634.0 691.3,627.0 689.7,620.0 687.7,613.0 685.5,606.0 683.4,599.0 681.0,592.0 678.5,585.0 676.2,578.0 673.9,571.0 671.5,564.0 669.2,557.0 667.1,550.0 665.1,543.0 663.2,536.0 661.5,529.0 660.1,522.0 658.9,515.0 657.6,508.0 656.7,501.0 655.9,494.0 655.1,487.0 654.5,480.0 653.9,473.0 653.5,466.0 653.0,459.0 652.5,452.0 652.2,445.0 652.1,438.0 651.9,431.0 651.8,424.0 651.7,417.0 651.7,410.0 651.9,403.0 652.0,396.0 652.0,389.0 652.2,382.0 652.3,375.0 652.4,368.0 651.8,361.0 651.8,354.0Z" fill="#75383c" fill-opacity="0.85"/></g><g id="rh"><path d="M539.0,354.0 538.1,361.0 533.2,368.0 529.9,375.0 527.3,382.0 525.2,389.0 523.4,396.0 521.7,403.0 520.2,410.0 518.7,417.0 517.4,424.0 516.1,431.0 515.2,438.0 514.1,445.0 513.1,452.0 512.5,459.0 511.8,466.0 511.3,473.0 510.7,480.0 510.5,487.0 510.3,494.0 510.1,501.0 510.0,508.0 510.2,515.0 510.2,522.0 510.4,529.0 510.8,536.0 511.3,543.0 512.0,550.0 512.5,557.0 513.2,564.0 514.3,571.0 515.4,578.0 516.5,585.0 517.7,592.0 519.1,599.0 520.4,606.0 521.9,613.0 523.4,620.0 524.7,627.0 526.2,634.0 527.4,641.0 528.9,648.0 530.2,655.0 531.2,662.0 532.2,669.0 533.2,676.0 533.7,683.0 534.7,690.0 534.9,697.0 535.4,704.0 535.7,711.0 535.9,718.0 535.9,725.0 535.9,732.0 535.9,739.0 535.9,746.0 535.7,753.0 535.4,760.0 534.9,767.0 534.4,774.0 534.2,781.0 533.7,788.0 532.9,795.0 532.2,802.0 531.4,809.0 530.6,816.0 529.6,823.0 528.6,830.0 527.4,837.0 526.1,844.0 524.9,851.0 523.4,858.0 521.6,865.0 520.1,872.0 518.4,879.0 517.1,886.0 515.4,893.0 514.1,900.0 512.8,907.0 511.3,914.0 510.3,921.0 509.3,928.0 508.3,935.0 507.5,942.0 506.5,949.0 506.3,956.0 505.8,963.0 505.5,970.0 505.5,977.0 506.0,984.0 506.5,991.0 507.4,998.0 507.9,1005.0 508.9,1012.0 510.1,1019.0 511.6,1026.0 513.8,1033.0 516.6,1040.0 520.0,1047.0 523.7,1054.0 528.5,1061.0 534.4,1068.0 541.9,1075.0 550.8,1082.0 559.0,1089.0 571.9,1096.0 586.0,1100.0 586.1,1100.0 572.1,1096.0 559.3,1089.0 551.2,1082.0 542.3,1075.0 534.9,1068.0 529.0,1061.0 524.4,1054.0 520.7,1047.0 517.2,1040.0 514.6,1033.0 512.4,1026.0 510.9,1019.0 509.7,1012.0 508.7,1005.0 508.3,998.0 507.3,991.0 506.9,984.0 506.4,977.0 506.4,970.0 506.7,963.0 507.2,956.0 507.5,949.0 508.5,942.0 509.3,935.0 510.3,928.0 511.3,921.0 512.4,914.0 513.9,907.0 515.1,900.0 516.4,893.0 518.2,886.0 519.4,879.0 521.2,872.0 522.7,865.0 524.5,858.0 526.0,851.0 527.2,844.0 528.5,837.0 529.7,830.0 530.7,823.0 531.8,816.0 532.5,809.0 533.3,802.0 534.0,795.0 534.8,788.0 535.3,781.0 535.5,774.0 536.0,767.0 536.5,760.0 536.8,753.0 537.0,746.0 537.0,739.0 537.0,732.0 537.0,725.0 537.0,718.0 536.8,711.0 536.5,704.0 536.0,697.0 535.8,690.0 534.8,683.0 534.3,676.0 533.3,669.0 532.3,662.0 531.3,655.0 530.0,648.0 528.5,641.0 527.3,634.0 525.8,627.0 524.5,620.0 523.0,613.0 521.5,606.0 520.2,599.0 518.8,592.0 517.6,585.0 516.4,578.0 515.3,571.0 514.3,564.0 513.5,557.0 513.0,550.0 512.3,543.0 511.8,536.0 511.4,529.0 511.2,522.0 511.2,515.0 511.0,508.0 511.0,501.0 511.3,494.0 511.5,487.0 511.7,480.0 512.2,473.0 512.8,466.0 513.4,459.0 514.1,452.0 515.0,445.0 516.1,438.0 517.0,431.0 518.3,424.0 519.6,417.0 521.1,410.0 522.5,403.0 524.3,396.0 526.0,389.0 528.1,382.0 530.7,375.0 534.0,368.0 538.8,361.0 539.7,354.0Z" fill="#fffafa" fill-opacity="0.75"/><path d="M541.8,354.0 540.9,361.0 536.2,368.0 533.0,375.0 530.4,382.0 528.3,389.0 526.6,396.0 524.9,403.0 523.4,410.0 522.0,417.0 520.7,424.0 519.5,431.0 518.6,438.0 517.5,445.0 516.6,452.0 516.0,459.0 515.3,466.0 514.8,473.0 514.3,480.0 514.1,487.0 513.9,494.0 513.7,501.0 513.7,508.0 513.9,515.0 513.9,522.0 514.1,529.0 514.6,536.0 515.1,543.0 515.8,550.0 516.4,557.0 517.2,564.0 518.2,571.0 519.3,578.0 520.5,585.0 521.7,592.0 523.2,599.0 524.5,606.0 526.0,613.0 527.5,620.0 528.8,627.0 530.3,634.0 531.6,641.0 533.1,648.0 534.3,655.0 535.3,662.0 536.3,669.0 537.3,676.0 537.8,683.0 538.8,690.0 539.1,697.0 539.6,704.0 539.8,711.0 540.1,718.0 540.1,725.0 540.1,732.0 540.1,739.0 540.1,746.0 539.8,753.0 539.6,760.0 539.1,767.0 538.6,774.0 538.3,781.0 537.8,788.0 537.1,795.0 536.3,802.0 535.5,809.0 534.8,816.0 533.7,823.0 532.7,830.0 531.5,837.0 530.2,844.0 528.9,851.0 527.4,858.0 525.6,865.0 524.1,872.0 522.3,879.0 521.1,886.0 519.3,893.0 518.0,900.0 516.7,907.0 515.2,914.0 514.1,921.0 513.1,928.0 512.0,935.0 511.2,942.0 510.1,949.0 509.8,956.0 509.3,963.0 508.9,970.0 508.9,977.0 509.3,984.0 509.7,991.0 510.6,998.0 511.0,1005.0 511.9,1012.0 513.0,1019.0 514.4,1026.0 516.5,1033.0 519.1,1040.0 522.4,1047.0 526.0,1054.0 530.6,1061.0 536.3,1068.0 543.5,1075.0 552.2,1082.0 560.1,1089.0 572.6,1096.0 586.3,1100.0 586.4,1100.0 572.9,1096.0 560.6,1089.0 552.8,1082.0 544.3,1075.0 537.2,1068.0 531.5,1061.0 527.1,1054.0 523.6,1047.0 520.3,1040.0 517.8,1033.0 515.7,1026.0 514.4,1019.0 513.3,1012.0 512.4,1005.0 512.0,998.0 511.2,991.0 510.8,984.0 510.4,977.0 510.5,970.0 510.9,963.0 511.5,956.0 511.8,949.0 512.9,942.0 513.7,935.0 514.8,928.0 515.9,921.0 517.0,914.0 518.5,907.0 519.8,900.0 521.1,893.0 522.9,886.0 524.2,879.0 526.0,872.0 527.5,865.0 529.3,858.0 530.8,851.0 532.1,844.0 533.3,837.0 534.6,830.0 535.6,823.0 536.7,816.0 537.4,809.0 538.2,802.0 539.0,795.0 539.7,788.0 540.3,781.0 540.5,774.0 541.0,767.0 541.5,760.0 541.8,753.0 542.0,746.0 542.0,739.0 542.0,732.0 542.0,725.0 542.0,718.0 541.8,711.0 541.5,704.0 541.0,697.0 540.7,690.0 539.8,683.0 539.2,676.0 538.2,669.0 537.2,662.0 536.2,655.0 535.0,648.0 533.5,641.0 532.2,634.0 530.7,627.0 529.4,620.0 527.9,613.0 526.4,606.0 525.1,599.0 523.6,592.0 522.4,585.0 521.2,578.0 520.1,571.0 519.0,564.0 518.2,557.0 517.6,550.0 516.8,543.0 516.3,536.0 515.9,529.0 515.6,522.0 515.6,515.0 515.4,508.0 515.4,501.0 515.6,494.0 515.8,487.0 516.0,480.0 516.5,473.0 517.0,466.0 517.6,459.0 518.2,452.0 519.1,445.0 520.2,438.0 521.1,431.0 522.3,424.0 523.6,417.0 525.0,410.0 526.4,403.0 528.1,396.0 529.8,389.0 531.8,382.0 534.4,375.0 537.5,368.0 542.2,361.0 543.1,354.0Z" fill="#fffafa" fill-opacity="0.75"/><path d="M546.1,354.0 545.3,361.0 540.8,368.0 537.7,375.0 535.2,382.0 533.2,389.0 531.6,396.0 529.9,403.0 528.5,410.0 527.1,417.0 525.9,424.0 524.7,431.0 523.9,438.0 522.8,445.0 522.0,452.0 521.4,459.0 520.8,466.0 520.3,473.0 519.9,480.0 519.7,487.0 519.5,494.0 519.4,501.0 519.4,508.0 519.6,515.0 519.7,522.0 520.0,529.0 520.5,536.0 521.0,543.0 521.8,550.0 522.4,557.0 523.3,564.0 524.4,571.0 525.6,578.0 526.8,585.0 528.0,592.0 529.6,599.0 530.9,606.0 532.4,613.0 533.9,620.0 535.2,627.0 536.7,634.0 538.0,641.0 539.5,648.0 540.7,655.0 541.8,662.0 542.8,669.0 543.8,676.0 544.3,683.0 545.3,690.0 545.5,697.0 546.0,704.0 546.3,711.0 546.6,718.0 546.6,725.0 546.6,732.0 546.6,739.0 546.6,746.0 546.3,753.0 546.1,760.0 545.6,767.0 545.1,774.0 544.8,781.0 544.3,788.0 543.5,795.0 542.7,802.0 541.9,809.0 541.2,816.0 540.1,823.0 539.1,830.0 537.8,837.0 536.5,844.0 535.2,851.0 533.7,858.0 531.9,865.0 530.3,872.0 528.5,879.0 527.2,886.0 525.4,893.0 524.0,900.0 522.7,907.0 521.1,914.0 520.0,921.0 518.9,928.0 517.8,935.0 516.9,942.0 515.8,949.0 515.4,956.0 514.7,963.0 514.3,970.0 514.1,977.0 514.4,984.0 514.7,991.0 515.4,998.0 515.7,1005.0 516.5,1012.0 517.5,1019.0 518.7,1026.0 520.7,1033.0 523.1,1040.0 526.2,1047.0 529.5,1054.0 533.8,1061.0 539.3,1068.0 546.1,1075.0 554.3,1082.0 561.8,1089.0 573.6,1096.0 586.6,1100.0 586.7,1100.0 574.0,1096.0 562.4,1089.0 555.1,1082.0 547.1,1075.0 540.4,1068.0 535.1,1061.0 530.9,1054.0 527.6,1047.0 524.6,1040.0 522.2,1033.0 520.4,1026.0 519.2,1019.0 518.2,1012.0 517.5,1005.0 517.3,998.0 516.6,991.0 516.3,984.0 516.1,977.0 516.3,970.0 516.8,963.0 517.4,956.0 517.9,949.0 519.0,942.0 520.0,935.0 521.1,928.0 522.2,921.0 523.4,914.0 525.0,907.0 526.3,900.0 527.7,893.0 529.5,886.0 530.8,879.0 532.7,872.0 534.2,865.0 536.0,858.0 537.6,851.0 538.9,844.0 540.2,837.0 541.5,830.0 542.5,823.0 543.6,816.0 544.4,809.0 545.1,802.0 545.9,795.0 546.7,788.0 547.2,781.0 547.5,774.0 548.0,767.0 548.5,760.0 548.8,753.0 549.0,746.0 549.0,739.0 549.0,732.0 549.0,725.0 549.0,718.0 548.8,711.0 548.5,704.0 548.0,697.0 547.7,690.0 546.7,683.0 546.2,676.0 545.2,669.0 544.2,662.0 543.2,655.0 541.9,648.0 540.4,641.0 539.2,634.0 537.6,627.0 536.4,620.0 534.8,613.0 533.3,606.0 531.9,599.0 530.4,592.0 529.1,585.0 527.9,578.0 526.7,571.0 525.6,564.0 524.7,557.0 524.0,550.0 523.2,543.0 522.7,536.0 522.2,529.0 521.9,522.0 521.8,515.0 521.5,508.0 521.5,501.0 521.6,494.0 521.8,487.0 522.0,480.0 522.4,473.0 522.9,466.0 523.5,459.0 524.0,452.0 524.8,445.0 525.9,438.0 526.7,431.0 527.9,424.0 529.1,417.0 530.4,410.0 531.8,403.0 533.5,396.0 535.1,389.0 537.0,382.0 539.5,375.0 542.5,368.0 546.9,361.0 547.8,354.0Z" fill="#fffafa" fill-opacity="0.75"/><path d="M551.5,354.0 550.7,361.0 546.4,368.0 543.5,375.0 541.1,382.0 539.3,389.0 537.7,396.0 536.1,403.0 534.8,410.0 533.5,417.0 532.3,424.0 531.2,431.0 530.4,438.0 529.4,445.0 528.6,452.0 528.1,459.0 527.5,466.0 527.1,473.0 526.7,480.0 526.6,487.0 526.4,494.0 526.3,501.0 526.4,508.0 526.7,515.0 526.8,522.0 527.1,529.0 527.7,536.0 528.3,543.0 529.2,550.0 529.8,557.0 530.8,564.0 532.0,571.0 533.2,578.0 534.5,585.0 535.8,592.0 537.4,599.0 538.7,606.0 540.3,613.0 541.8,620.0 543.1,627.0 544.6,634.0 545.9,641.0 547.4,648.0 548.7,655.0 549.7,662.0 550.7,669.0 551.7,676.0 552.2,683.0 553.2,690.0 553.5,697.0 554.0,704.0 554.3,711.0 554.6,718.0 554.6,725.0 554.6,732.0 554.6,739.0 554.6,746.0 554.3,753.0 554.1,760.0 553.6,767.0 553.1,774.0 552.8,781.0 552.2,788.0 551.4,795.0 550.6,802.0 549.8,809.0 549.0,816.0 548.0,823.0 546.9,830.0 545.6,837.0 544.3,844.0 542.9,851.0 541.4,858.0 539.5,865.0 537.9,872.0 536.1,879.0 534.7,886.0 532.9,893.0 531.5,900.0 530.1,907.0 528.5,914.0 527.3,921.0 526.1,928.0 524.9,935.0 523.9,942.0 522.7,949.0 522.2,956.0 521.4,963.0 520.9,970.0 520.5,977.0 520.7,984.0 520.8,991.0 521.4,998.0 521.6,1005.0 522.2,1012.0 523.0,1019.0 524.1,1026.0 525.8,1033.0 528.0,1040.0 530.8,1047.0 533.9,1054.0 537.8,1061.0 542.9,1068.0 549.3,1075.0 557.0,1082.0 563.9,1089.0 574.9,1096.0 587.0,1100.0 587.2,1100.0 575.3,1096.0 564.6,1089.0 557.9,1082.0 550.4,1075.0 544.2,1068.0 539.3,1061.0 535.4,1054.0 532.5,1047.0 529.7,1040.0 527.6,1033.0 526.0,1026.0 525.0,1019.0 524.2,1012.0 523.7,1005.0 523.6,998.0 523.0,991.0 522.9,984.0 522.8,977.0 523.2,970.0 523.8,963.0 524.6,956.0 525.1,949.0 526.4,942.0 527.4,935.0 528.6,928.0 529.9,921.0 531.1,914.0 532.8,907.0 534.2,900.0 535.6,893.0 537.4,886.0 538.8,879.0 540.7,872.0 542.3,865.0 544.1,858.0 545.7,851.0 547.0,844.0 548.4,837.0 549.7,830.0 550.8,823.0 551.8,816.0 552.7,809.0 553.5,802.0 554.3,795.0 555.1,788.0 555.6,781.0 555.9,774.0 556.4,767.0 556.9,760.0 557.2,753.0 557.4,746.0 557.4,739.0 557.4,732.0 557.4,725.0 557.4,718.0 557.1,711.0 556.9,704.0 556.4,697.0 556.1,690.0 555.1,683.0 554.5,676.0 553.6,669.0 552.5,662.0 551.5,655.0 550.3,648.0 548.8,641.0 547.5,634.0 546.0,627.0 544.7,620.0 543.1,613.0 541.5,606.0 540.1,599.0 538.5,592.0 537.2,585.0 535.9,578.0 534.7,571.0 533.5,564.0 532.5,557.0 531.8,550.0 530.9,543.0 530.3,536.0 529.7,529.0 529.3,522.0 529.2,515.0 528.9,508.0 528.8,501.0 528.9,494.0 529.0,487.0 529.1,480.0 529.5,473.0 529.9,466.0 530.5,459.0 531.0,452.0 531.7,445.0 532.7,438.0 533.5,431.0 534.6,424.0 535.7,417.0 537.0,410.0 538.3,403.0 539.9,396.0 541.4,389.0 543.3,382.0 545.6,375.0 548.5,368.0 552.6,361.0 553.4,354.0Z" fill="#fffafa" fill-opacity="0.75"/><path d="M557.7,354.0 556.9,361.0 553.0,368.0 550.2,375.0 548.0,382.0 546.2,389.0 544.7,396.0 543.2,403.0 542.0,410.0 540.7,417.0 539.7,424.0 538.6,431.0 537.9,438.0 536.9,445.0 536.2,452.0 535.8,459.0 535.3,466.0 534.9,473.0 534.6,480.0 534.5,487.0 534.4,494.0 534.3,501.0 534.5,508.0 534.8,515.0 535.0,522.0 535.4,529.0 536.0,536.0 536.7,543.0 537.6,550.0 538.4,557.0 539.4,564.0 540.7,571.0 542.0,578.0 543.3,585.0 544.7,592.0 546.3,599.0 547.7,606.0 549.4,613.0 550.9,620.0 552.2,627.0 553.8,634.0 555.1,641.0 556.6,648.0 557.8,655.0 558.9,662.0 559.9,669.0 560.9,676.0 561.4,683.0 562.4,690.0 562.7,697.0 563.2,704.0 563.5,711.0 563.8,718.0 563.8,725.0 563.8,732.0 563.8,739.0 563.8,746.0 563.5,753.0 563.3,760.0 562.8,767.0 562.3,774.0 561.9,781.0 561.4,788.0 560.6,795.0 559.7,802.0 558.9,809.0 558.1,816.0 557.0,823.0 555.9,830.0 554.5,837.0 553.2,844.0 551.8,851.0 550.2,858.0 548.4,865.0 546.7,872.0 544.9,879.0 543.4,886.0 541.6,893.0 540.1,900.0 538.6,907.0 536.9,914.0 535.6,921.0 534.3,928.0 533.0,935.0 531.9,942.0 530.6,949.0 530.0,956.0 529.1,963.0 528.4,970.0 528.0,977.0 528.0,984.0 527.9,991.0 528.3,998.0 528.3,1005.0 528.7,1012.0 529.4,1019.0 530.2,1026.0 531.7,1033.0 533.6,1040.0 536.1,1047.0 538.9,1054.0 542.5,1061.0 547.1,1068.0 553.0,1075.0 560.0,1082.0 566.3,1089.0 576.3,1096.0 587.5,1100.0 587.7,1100.0 576.8,1096.0 567.1,1089.0 561.1,1082.0 554.2,1075.0 548.5,1068.0 544.1,1061.0 540.6,1054.0 538.0,1047.0 535.6,1040.0 533.8,1033.0 532.4,1026.0 531.6,1019.0 531.0,1012.0 530.7,1005.0 530.7,998.0 530.4,991.0 530.5,984.0 530.5,977.0 531.1,970.0 531.8,963.0 532.7,956.0 533.4,949.0 534.7,942.0 535.9,935.0 537.2,928.0 538.5,921.0 539.8,914.0 541.6,907.0 543.1,900.0 544.6,893.0 546.4,886.0 547.9,879.0 549.8,872.0 551.5,865.0 553.3,858.0 554.9,851.0 556.3,844.0 557.7,837.0 559.0,830.0 560.1,823.0 561.3,816.0 562.1,809.0 562.9,802.0 563.8,795.0 564.6,788.0 565.1,781.0 565.5,774.0 566.0,767.0 566.5,760.0 566.7,753.0 567.0,746.0 567.0,739.0 567.0,732.0 567.0,725.0 567.0,718.0 566.7,711.0 566.4,704.0 565.9,697.0 565.6,690.0 564.6,683.0 564.0,676.0 563.1,669.0 562.0,662.0 561.0,655.0 559.8,648.0 558.3,641.0 556.9,634.0 555.4,627.0 554.1,620.0 552.5,613.0 550.9,606.0 549.5,599.0 547.8,592.0 546.4,585.0 545.0,578.0 543.8,571.0 542.5,564.0 541.4,557.0 540.6,550.0 539.7,543.0 538.9,536.0 538.3,529.0 537.8,522.0 537.6,515.0 537.3,508.0 537.1,501.0 537.2,494.0 537.2,487.0 537.3,480.0 537.6,473.0 538.0,466.0 538.4,459.0 538.9,452.0 539.6,445.0 540.5,438.0 541.2,431.0 542.2,424.0 543.3,417.0 544.5,410.0 545.7,403.0 547.2,396.0 548.6,389.0 550.3,382.0 552.5,375.0 555.2,368.0 559.0,361.0 559.8,354.0Z" fill="#fffafa" fill-opacity="0.75"/><path d="M564.5,354.0 563.8,361.0 560.2,368.0 557.7,375.0 555.6,382.0 553.9,389.0 552.6,396.0 551.1,403.0 550.0,410.0 548.8,417.0 547.8,424.0 546.9,431.0 546.2,438.0 545.4,445.0 544.7,452.0 544.3,459.0 543.9,466.0 543.6,473.0 543.3,480.0 543.3,487.0 543.3,494.0 543.3,501.0 543.4,508.0 543.9,515.0 544.1,522.0 544.6,529.0 545.3,536.0 546.1,543.0 547.1,550.0 548.0,557.0 549.1,564.0 550.4,571.0 551.8,578.0 553.2,585.0 554.7,592.0 556.4,599.0 557.8,606.0 559.5,613.0 561.1,620.0 562.4,627.0 563.9,634.0 565.3,641.0 566.8,648.0 568.0,655.0 569.1,662.0 570.1,669.0 571.1,676.0 571.6,683.0 572.6,690.0 572.9,697.0 573.4,704.0 573.7,711.0 574.0,718.0 574.0,725.0 574.0,732.0 574.0,739.0 574.0,746.0 573.8,753.0 573.5,760.0 573.0,767.0 572.5,774.0 572.2,781.0 571.6,788.0 570.8,795.0 569.9,802.0 569.1,809.0 568.2,816.0 567.0,823.0 565.9,830.0 564.5,837.0 563.2,844.0 561.8,851.0 560.1,858.0 558.2,865.0 556.5,872.0 554.6,879.0 553.1,886.0 551.2,893.0 549.6,900.0 548.1,907.0 546.3,914.0 544.9,921.0 543.5,928.0 542.1,935.0 540.9,942.0 539.5,949.0 538.7,956.0 537.7,963.0 536.9,970.0 536.2,977.0 536.0,984.0 535.8,991.0 536.0,998.0 535.8,1005.0 536.0,1012.0 536.5,1019.0 537.1,1026.0 538.3,1033.0 539.9,1040.0 542.1,1047.0 544.5,1054.0 547.6,1061.0 551.7,1068.0 557.0,1075.0 563.4,1082.0 568.9,1089.0 577.9,1096.0 588.0,1100.0 588.2,1100.0 578.5,1096.0 569.9,1089.0 564.6,1082.0 558.4,1075.0 553.3,1068.0 549.4,1061.0 546.4,1054.0 544.1,1047.0 542.0,1040.0 540.5,1033.0 539.4,1026.0 538.9,1019.0 538.5,1012.0 538.4,1005.0 538.6,998.0 538.5,991.0 538.8,984.0 539.1,977.0 539.7,970.0 540.6,963.0 541.7,956.0 542.5,949.0 544.0,942.0 545.2,935.0 546.7,928.0 548.1,921.0 549.5,914.0 551.4,907.0 552.9,900.0 554.5,893.0 556.4,886.0 558.0,879.0 559.9,872.0 561.6,865.0 563.5,858.0 565.1,851.0 566.6,844.0 567.9,837.0 569.4,830.0 570.5,823.0 571.7,816.0 572.5,809.0 573.4,802.0 574.2,795.0 575.1,788.0 575.7,781.0 576.0,774.0 576.5,767.0 577.0,760.0 577.3,753.0 577.5,746.0 577.5,739.0 577.5,732.0 577.5,725.0 577.5,718.0 577.2,711.0 576.9,704.0 576.4,697.0 576.1,690.0 575.1,683.0 574.5,676.0 573.6,669.0 572.5,662.0 571.5,655.0 570.2,648.0 568.7,641.0 567.4,634.0 565.9,627.0 564.5,620.0 562.9,613.0 561.2,606.0 559.8,599.0 558.1,592.0 556.6,585.0 555.1,578.0 553.8,571.0 552.4,564.0 551.2,557.0 550.3,550.0 549.3,543.0 548.5,536.0 547.8,529.0 547.2,522.0 547.0,515.0 546.5,508.0 546.3,501.0 546.3,494.0 546.3,487.0 546.3,480.0 546.6,473.0 546.9,466.0 547.3,459.0 547.6,452.0 548.2,445.0 549.1,438.0 549.7,431.0 550.6,424.0 551.6,417.0 552.7,410.0 553.9,403.0 555.2,396.0 556.6,389.0 558.2,382.0 560.2,375.0 562.7,368.0 566.2,361.0 566.9,354.0Z" fill="#fffafa" fill-opacity="0.75"/><path d="M572.0,354.0 571.4,361.0 568.1,368.0 565.8,375.0 563.9,382.0 562.3,389.0 561.1,396.0 559.8,403.0 558.7,410.0 557.7,417.0 556.8,424.0 555.9,431.0 555.3,438.0 554.5,445.0 554.0,452.0 553.7,459.0 553.3,466.0 553.1,473.0 552.9,480.0 552.9,487.0 552.9,494.0 553.0,501.0 553.2,508.0 553.7,515.0 554.1,522.0 554.6,529.0 555.4,536.0 556.3,543.0 557.4,550.0 558.4,557.0 559.6,564.0 561.0,571.0 562.5,578.0 563.9,585.0 565.5,592.0 567.3,599.0 568.8,606.0 570.5,613.0 572.1,620.0 573.5,627.0 575.0,634.0 576.4,641.0 577.9,648.0 579.1,655.0 580.2,662.0 581.2,669.0 582.2,676.0 582.8,683.0 583.7,690.0 584.1,697.0 584.6,704.0 584.9,711.0 585.2,718.0 585.2,725.0 585.2,732.0 585.2,739.0 585.2,746.0 585.0,753.0 584.7,760.0 584.2,767.0 583.7,774.0 583.3,781.0 582.7,788.0 581.9,795.0 581.0,802.0 580.1,809.0 579.2,816.0 578.0,823.0 576.9,830.0 575.4,837.0 574.0,844.0 572.6,851.0 570.9,858.0 569.0,865.0 567.2,872.0 565.3,879.0 563.7,886.0 561.7,893.0 560.1,900.0 558.5,907.0 556.6,914.0 555.1,921.0 553.6,928.0 552.1,935.0 550.7,942.0 549.1,949.0 548.2,956.0 547.0,963.0 546.0,970.0 545.2,977.0 544.8,984.0 544.4,991.0 544.4,998.0 544.0,1005.0 544.0,1012.0 544.2,1019.0 544.5,1026.0 545.4,1033.0 546.7,1040.0 548.5,1047.0 550.5,1054.0 553.2,1061.0 556.8,1068.0 561.5,1075.0 567.1,1082.0 571.9,1089.0 579.7,1096.0 588.6,1100.0 588.8,1100.0 580.3,1096.0 572.9,1089.0 568.4,1082.0 563.0,1075.0 558.5,1068.0 555.1,1061.0 552.6,1054.0 550.7,1047.0 549.0,1040.0 547.9,1033.0 547.1,1026.0 546.8,1019.0 546.7,1012.0 546.8,1005.0 547.2,998.0 547.3,991.0 547.8,984.0 548.3,977.0 549.2,970.0 550.2,963.0 551.5,956.0 552.4,949.0 554.0,942.0 555.4,935.0 556.9,928.0 558.5,921.0 560.0,914.0 561.9,907.0 563.6,900.0 565.3,893.0 567.2,886.0 568.8,879.0 570.8,872.0 572.6,865.0 574.5,858.0 576.2,851.0 577.7,844.0 579.1,837.0 580.6,830.0 581.7,823.0 582.9,816.0 583.8,809.0 584.7,802.0 585.6,795.0 586.5,788.0 587.1,781.0 587.4,774.0 588.0,767.0 588.5,760.0 588.7,753.0 589.0,746.0 589.0,739.0 589.0,732.0 588.9,725.0 588.9,718.0 588.6,711.0 588.3,704.0 587.8,697.0 587.5,690.0 586.5,683.0 585.9,676.0 585.0,669.0 583.9,662.0 582.9,655.0 581.6,648.0 580.1,641.0 578.8,634.0 577.2,627.0 575.8,620.0 574.2,613.0 572.5,606.0 570.9,599.0 569.2,592.0 567.6,585.0 566.1,578.0 564.6,571.0 563.1,564.0 561.9,557.0 560.9,550.0 559.8,543.0 558.8,536.0 558.0,529.0 557.4,522.0 557.1,515.0 556.6,508.0 556.3,501.0 556.2,494.0 556.1,487.0 556.1,480.0 556.3,473.0 556.5,466.0 556.8,459.0 557.1,452.0 557.6,445.0 558.4,438.0 558.9,431.0 559.8,424.0 560.7,417.0 561.7,410.0 562.7,403.0 564.0,396.0 565.2,389.0 566.7,382.0 568.5,375.0 570.8,368.0 573.9,361.0 574.6,354.0Z" fill="#fffafa" fill-opacity="0.75"/><path d="M580.1,354.0 579.5,361.0 576.6,368.0 574.5,375.0 572.8,382.0 571.4,389.0 570.3,396.0 569.1,403.0 568.1,410.0 567.2,417.0 566.4,424.0 565.6,431.0 565.1,438.0 564.4,445.0 563.9,452.0 563.7,459.0 563.4,466.0 563.2,473.0 563.1,480.0 563.2,487.0 563.3,494.0 563.5,501.0 563.8,508.0 564.3,515.0 564.8,522.0 565.4,529.0 566.3,536.0 567.3,543.0 568.5,550.0 569.6,557.0 570.9,564.0 572.4,571.0 573.9,578.0 575.5,585.0 577.1,592.0 579.0,599.0 580.5,606.0 582.3,613.0 584.0,620.0 585.3,627.0 586.9,634.0 588.3,641.0 589.8,648.0 591.0,655.0 592.1,662.0 593.2,669.0 594.1,676.0 594.7,683.0 595.7,690.0 596.0,697.0 596.5,704.0 596.8,711.0 597.2,718.0 597.2,725.0 597.2,732.0 597.2,739.0 597.2,746.0 597.0,753.0 596.7,760.0 596.2,767.0 595.7,774.0 595.3,781.0 594.7,788.0 593.8,795.0 592.8,802.0 592.0,809.0 591.0,816.0 589.8,823.0 588.6,830.0 587.1,837.0 585.7,844.0 584.2,851.0 582.4,858.0 580.5,865.0 578.7,872.0 576.7,879.0 575.0,886.0 573.0,893.0 571.2,900.0 569.6,907.0 567.6,914.0 565.9,921.0 564.3,928.0 562.7,935.0 561.2,942.0 559.5,949.0 558.5,956.0 557.1,963.0 555.9,970.0 554.9,977.0 554.3,984.0 553.6,991.0 553.4,998.0 552.8,1005.0 552.5,1012.0 552.5,1019.0 552.6,1026.0 553.1,1033.0 554.1,1040.0 555.5,1047.0 557.1,1054.0 559.3,1061.0 562.2,1068.0 566.3,1075.0 571.1,1082.0 575.0,1089.0 581.6,1096.0 589.2,1100.0 589.4,1100.0 582.3,1096.0 576.1,1089.0 572.4,1082.0 567.9,1075.0 564.1,1068.0 561.3,1061.0 559.2,1054.0 557.8,1047.0 556.6,1040.0 555.7,1033.0 555.3,1026.0 555.3,1019.0 555.4,1012.0 555.7,1005.0 556.4,998.0 556.7,991.0 557.5,984.0 558.2,977.0 559.2,970.0 560.5,963.0 561.9,956.0 563.0,949.0 564.7,942.0 566.3,935.0 567.9,928.0 569.6,921.0 571.3,914.0 573.3,907.0 575.0,900.0 576.8,893.0 578.8,886.0 580.5,879.0 582.5,872.0 584.4,865.0 586.3,858.0 588.1,851.0 589.6,844.0 591.0,837.0 592.5,830.0 593.7,823.0 595.0,816.0 596.0,809.0 596.8,802.0 597.8,795.0 598.7,788.0 599.3,781.0 599.7,774.0 600.2,767.0 600.7,760.0 601.0,753.0 601.2,746.0 601.2,739.0 601.2,732.0 601.2,725.0 601.2,718.0 600.9,711.0 600.5,704.0 600.0,697.0 599.7,690.0 598.7,683.0 598.1,676.0 597.2,669.0 596.1,662.0 595.0,655.0 593.8,648.0 592.3,641.0 590.9,634.0 589.3,627.0 588.0,620.0 586.3,613.0 584.5,606.0 582.9,599.0 581.1,592.0 579.4,585.0 577.8,578.0 576.3,571.0 574.7,564.0 573.3,557.0 572.2,550.0 571.0,543.0 570.0,536.0 569.1,529.0 568.4,522.0 567.9,515.0 567.3,508.0 567.0,501.0 566.8,494.0 566.7,487.0 566.6,480.0 566.7,473.0 566.8,466.0 567.1,459.0 567.2,452.0 567.7,445.0 568.4,438.0 568.8,431.0 569.6,424.0 570.3,417.0 571.3,410.0 572.2,403.0 573.4,396.0 574.4,389.0 575.8,382.0 577.4,375.0 579.5,368.0 582.2,361.0 582.8,354.0Z" fill="#fffafa" fill-opacity="0.75"/><path d="M588.7,354.0 588.1,361.0 585.7,368.0 583.8,375.0 582.3,382.0 581.0,389.0 580.1,396.0 579.0,403.0 578.1,410.0 577.3,417.0 576.6,424.0 575.9,431.0 575.5,438.0 574.9,445.0 574.5,452.0 574.4,459.0 574.2,466.0 574.1,473.0 574.0,480.0 574.2,487.0 574.4,494.0 574.6,501.0 575.0,508.0 575.6,515.0 576.2,522.0 576.9,529.0 577.9,536.0 579.0,543.0 580.3,550.0 581.5,557.0 582.9,564.0 584.6,571.0 586.2,578.0 587.8,585.0 589.6,592.0 591.5,599.0 593.1,606.0 594.9,613.0 596.6,620.0 598.0,627.0 599.6,634.0 601.0,641.0 602.5,648.0 603.7,655.0 604.8,662.0 605.9,669.0 606.8,676.0 607.5,683.0 608.4,690.0 608.8,697.0 609.3,704.0 609.6,711.0 609.9,718.0 609.9,725.0 610.0,732.0 610.0,739.0 610.0,746.0 609.8,753.0 609.5,760.0 609.0,767.0 608.4,774.0 608.0,781.0 607.4,788.0 606.5,795.0 605.5,802.0 604.6,809.0 603.6,816.0 602.3,823.0 601.1,830.0 599.6,837.0 598.1,844.0 596.5,851.0 594.7,858.0 592.8,865.0 590.9,872.0 588.8,879.0 587.1,886.0 585.0,893.0 583.2,900.0 581.4,907.0 579.3,914.0 577.6,921.0 575.8,928.0 574.1,935.0 572.4,942.0 570.6,949.0 569.4,956.0 567.8,963.0 566.4,970.0 565.2,977.0 564.4,984.0 563.5,991.0 563.0,998.0 562.1,1005.0 561.6,1012.0 561.3,1019.0 561.1,1026.0 561.3,1033.0 561.9,1040.0 562.9,1047.0 564.0,1054.0 565.7,1061.0 568.0,1068.0 571.3,1075.0 575.3,1082.0 578.3,1089.0 583.6,1096.0 589.9,1100.0 590.1,1100.0 584.3,1096.0 579.5,1089.0 576.7,1082.0 573.0,1075.0 570.0,1068.0 567.8,1061.0 566.3,1054.0 565.3,1047.0 564.5,1040.0 564.1,1033.0 564.0,1026.0 564.3,1019.0 564.7,1012.0 565.3,1005.0 566.2,998.0 566.8,991.0 567.8,984.0 568.7,977.0 570.0,970.0 571.4,963.0 573.0,956.0 574.3,949.0 576.1,942.0 577.8,935.0 579.6,928.0 581.4,921.0 583.2,914.0 585.3,907.0 587.1,900.0 589.0,893.0 591.1,886.0 592.9,879.0 595.0,872.0 596.9,865.0 598.8,858.0 600.7,851.0 602.2,844.0 603.7,837.0 605.3,830.0 606.5,823.0 607.8,816.0 608.8,809.0 609.7,802.0 610.7,795.0 611.6,788.0 612.3,781.0 612.7,774.0 613.3,767.0 613.8,760.0 614.0,753.0 614.3,746.0 614.3,739.0 614.3,732.0 614.2,725.0 614.2,718.0 613.9,711.0 613.5,704.0 613.0,697.0 612.6,690.0 611.7,683.0 611.0,676.0 610.1,669.0 609.0,662.0 608.0,655.0 606.7,648.0 605.2,641.0 603.8,634.0 602.2,627.0 600.8,620.0 599.1,613.0 597.3,606.0 595.6,599.0 593.7,592.0 591.9,585.0 590.2,578.0 588.6,571.0 586.9,564.0 585.4,557.0 584.2,550.0 582.9,543.0 581.7,536.0 580.7,529.0 580.0,522.0 579.4,515.0 578.7,508.0 578.3,501.0 578.1,494.0 577.8,487.0 577.7,480.0 577.7,473.0 577.8,466.0 577.9,459.0 578.0,452.0 578.4,445.0 579.0,438.0 579.3,431.0 580.0,424.0 580.6,417.0 581.4,410.0 582.3,403.0 583.3,396.0 584.2,389.0 585.5,382.0 586.9,375.0 588.7,368.0 591.0,361.0 591.5,354.0Z" fill="#fffafa" fill-opacity="0.75"/><path d="M597.8,354.0 597.3,361.0 595.4,368.0 593.8,375.0 592.4,382.0 591.3,389.0 590.5,396.0 589.6,403.0 588.8,410.0 588.1,417.0 587.5,424.0 586.9,431.0 586.6,438.0 586.1,445.0 585.8,452.0 585.8,459.0 585.7,466.0 585.7,473.0 585.7,480.0 585.9,487.0 586.2,494.0 586.5,501.0 587.0,508.0 587.7,515.0 588.3,522.0 589.2,529.0 590.3,536.0 591.5,543.0 592.9,550.0 594.2,557.0 595.8,564.0 597.5,571.0 599.2,578.0 601.0,585.0 602.8,592.0 604.8,599.0 606.5,606.0 608.4,613.0 610.1,620.0 611.5,627.0 613.1,634.0 614.6,641.0 616.1,648.0 617.3,655.0 618.4,662.0 619.5,669.0 620.4,676.0 621.1,683.0 622.0,690.0 622.4,697.0 622.9,704.0 623.3,711.0 623.6,718.0 623.6,725.0 623.7,732.0 623.7,739.0 623.7,746.0 623.4,753.0 623.2,760.0 622.7,767.0 622.1,774.0 621.7,781.0 621.0,788.0 620.1,795.0 619.0,802.0 618.1,809.0 617.1,816.0 615.8,823.0 614.5,830.0 612.9,837.0 611.4,844.0 609.8,851.0 607.9,858.0 605.9,865.0 604.0,872.0 601.8,879.0 600.0,886.0 597.9,893.0 595.9,900.0 594.0,907.0 591.8,914.0 590.0,921.0 588.1,928.0 586.2,935.0 584.4,942.0 582.4,949.0 581.0,956.0 579.3,963.0 577.7,970.0 576.3,977.0 575.2,984.0 574.0,991.0 573.2,998.0 572.1,1005.0 571.4,1012.0 570.8,1019.0 570.2,1026.0 570.1,1033.0 570.3,1040.0 570.8,1047.0 571.4,1054.0 572.6,1061.0 574.2,1068.0 576.8,1075.0 579.9,1082.0 581.9,1089.0 585.8,1096.0 590.6,1100.0 590.8,1100.0 586.5,1096.0 583.1,1089.0 581.3,1082.0 578.5,1075.0 576.2,1068.0 574.8,1061.0 573.9,1054.0 573.4,1047.0 573.0,1040.0 573.0,1033.0 573.2,1026.0 573.8,1019.0 574.5,1012.0 575.4,1005.0 576.6,998.0 577.4,991.0 578.7,984.0 579.9,977.0 581.4,970.0 583.0,963.0 584.8,956.0 586.3,949.0 588.3,942.0 590.1,935.0 592.1,928.0 594.0,921.0 595.9,914.0 598.2,907.0 600.1,900.0 602.1,893.0 604.2,886.0 606.1,879.0 608.2,872.0 610.2,865.0 612.2,858.0 614.1,851.0 615.7,844.0 617.2,837.0 618.8,830.0 620.1,823.0 621.5,816.0 622.5,809.0 623.5,802.0 624.5,795.0 625.4,788.0 626.1,781.0 626.5,774.0 627.1,767.0 627.6,760.0 627.9,753.0 628.1,746.0 628.1,739.0 628.1,732.0 628.0,725.0 628.0,718.0 627.7,711.0 627.4,704.0 626.9,697.0 626.4,690.0 625.5,683.0 624.8,676.0 623.9,669.0 622.8,662.0 621.7,655.0 620.5,648.0 619.0,641.0 617.5,634.0 616.0,627.0 614.5,620.0 612.7,613.0 610.9,606.0 609.2,599.0 607.1,592.0 605.3,585.0 603.5,578.0 601.8,571.0 599.9,564.0 598.4,557.0 597.0,550.0 595.5,543.0 594.3,536.0 593.2,529.0 592.3,522.0 591.7,515.0 590.9,508.0 590.4,501.0 590.1,494.0 589.8,487.0 589.5,480.0 589.4,473.0 589.4,466.0 589.5,459.0 589.5,452.0 589.8,445.0 590.2,438.0 590.5,431.0 591.0,424.0 591.6,417.0 592.3,410.0 593.0,403.0 593.9,396.0 594.7,389.0 595.7,382.0 597.0,375.0 598.5,368.0 600.4,361.0 600.8,354.0Z" fill="#fffafa" fill-opacity="0.76"/><path d="M607.6,354.0 607.2,361.0 605.7,368.0 604.4,375.0 603.3,382.0 602.3,389.0 601.7,396.0 600.9,403.0 600.2,410.0 599.6,417.0 599.1,424.0 598.7,431.0 598.5,438.0 598.1,445.0 597.9,452.0 598.0,459.0 598.0,466.0 598.0,473.0 598.2,480.0 598.5,487.0 598.9,494.0 599.2,501.0 599.8,508.0 600.6,515.0 601.3,522.0 602.3,529.0 603.5,536.0 604.8,543.0 606.3,550.0 607.8,557.0 609.5,564.0 611.4,571.0 613.2,578.0 615.0,585.0 617.0,592.0 619.1,599.0 620.8,606.0 622.7,613.0 624.5,620.0 626.0,627.0 627.6,634.0 629.1,641.0 630.6,648.0 631.8,655.0 632.9,662.0 634.0,669.0 634.9,676.0 635.6,683.0 636.5,690.0 637.0,697.0 637.5,704.0 637.8,711.0 638.2,718.0 638.2,725.0 638.3,732.0 638.3,739.0 638.3,746.0 638.0,753.0 637.8,760.0 637.3,767.0 636.7,774.0 636.2,781.0 635.5,788.0 634.6,795.0 633.5,802.0 632.5,809.0 631.5,816.0 630.1,823.0 628.8,830.0 627.1,837.0 625.5,844.0 623.9,851.0 622.0,858.0 619.9,865.0 617.9,872.0 615.7,879.0 613.8,886.0 611.6,893.0 609.5,900.0 607.6,907.0 605.2,914.0 603.2,921.0 601.2,928.0 599.1,935.0 597.2,942.0 595.0,949.0 593.4,956.0 591.5,963.0 589.7,970.0 588.1,977.0 586.7,984.0 585.2,991.0 584.2,998.0 582.8,1005.0 581.8,1012.0 580.9,1019.0 580.0,1026.0 579.5,1033.0 579.2,1040.0 579.2,1047.0 579.4,1054.0 579.9,1061.0 580.9,1068.0 582.6,1075.0 584.7,1082.0 585.7,1089.0 588.1,1096.0 591.4,1100.0 591.6,1100.0 588.9,1096.0 586.9,1089.0 586.2,1082.0 584.4,1075.0 582.9,1068.0 582.2,1061.0 581.9,1054.0 581.9,1047.0 582.0,1040.0 582.4,1033.0 583.1,1026.0 584.0,1019.0 585.0,1012.0 586.2,1005.0 587.6,998.0 588.8,991.0 590.3,984.0 591.8,977.0 593.5,970.0 595.3,963.0 597.4,956.0 599.0,949.0 601.2,942.0 603.2,935.0 605.3,928.0 607.4,921.0 609.5,914.0 611.8,907.0 613.8,900.0 615.9,893.0 618.1,886.0 620.1,879.0 622.3,872.0 624.3,865.0 626.4,858.0 628.3,851.0 630.0,844.0 631.6,837.0 633.3,830.0 634.6,823.0 636.0,816.0 637.1,809.0 638.1,802.0 639.1,795.0 640.1,788.0 640.8,781.0 641.3,774.0 641.9,767.0 642.4,760.0 642.6,753.0 642.9,746.0 642.9,739.0 642.9,732.0 642.8,725.0 642.8,718.0 642.4,711.0 642.1,704.0 641.6,697.0 641.1,690.0 640.2,683.0 639.5,676.0 638.6,669.0 637.5,662.0 636.4,655.0 635.1,648.0 633.6,641.0 632.2,634.0 630.6,627.0 629.1,620.0 627.3,613.0 625.3,606.0 623.5,599.0 621.5,592.0 619.5,585.0 617.6,578.0 615.7,571.0 613.8,564.0 612.1,557.0 610.6,550.0 609.0,543.0 607.6,536.0 606.4,529.0 605.4,522.0 604.7,515.0 603.8,508.0 603.2,501.0 602.8,494.0 602.4,487.0 602.1,480.0 601.9,473.0 601.8,466.0 601.8,459.0 601.7,452.0 601.9,445.0 602.2,438.0 602.4,431.0 602.8,424.0 603.2,417.0 603.8,410.0 604.4,403.0 605.2,396.0 605.8,389.0 606.7,382.0 607.7,375.0 609.0,368.0 610.3,361.0 610.7,354.0Z" fill="#fff9f9" fill-opacity="0.77"/><path d="M618.0,354.0 617.7,361.0 616.7,368.0 615.7,375.0 614.8,382.0 614.0,389.0 613.5,396.0 612.9,403.0 612.3,410.0 611.9,417.0 611.5,424.0 611.2,431.0 611.1,438.0 610.8,445.0 610.7,452.0 610.9,459.0 611.0,466.0 611.2,473.0 611.4,480.0 611.8,487.0 612.3,494.0 612.7,501.0 613.3,508.0 614.3,515.0 615.1,522.0 616.2,529.0 617.5,536.0 619.0,543.0 620.6,550.0 622.2,557.0 624.0,564.0 626.1,571.0 628.0,578.0 630.0,585.0 632.0,592.0 634.2,599.0 636.0,606.0 638.0,613.0 639.9,620.0 641.3,627.0 643.0,634.0 644.4,641.0 645.9,648.0 647.2,655.0 648.3,662.0 649.4,669.0 650.3,676.0 651.0,683.0 651.9,690.0 652.4,697.0 652.9,704.0 653.3,711.0 653.7,718.0 653.7,725.0 653.8,732.0 653.8,739.0 653.8,746.0 653.5,753.0 653.3,760.0 652.8,767.0 652.2,774.0 651.7,781.0 650.9,788.0 649.9,795.0 648.8,802.0 647.9,809.0 646.7,816.0 645.3,823.0 643.9,830.0 642.2,837.0 640.6,844.0 638.9,851.0 636.9,858.0 634.8,865.0 632.7,872.0 630.5,879.0 628.4,886.0 626.2,893.0 624.0,900.0 621.9,907.0 619.4,914.0 617.3,921.0 615.1,928.0 612.9,935.0 610.7,942.0 608.4,949.0 606.6,956.0 604.5,963.0 602.4,970.0 600.5,977.0 598.9,984.0 597.2,991.0 595.8,998.0 594.2,1005.0 592.8,1012.0 591.6,1019.0 590.3,1026.0 589.4,1033.0 588.7,1040.0 588.2,1047.0 587.8,1054.0 587.7,1061.0 587.9,1068.0 588.7,1075.0 589.8,1082.0 589.8,1089.0 590.6,1096.0 592.2,1100.0 592.4,1100.0 591.3,1096.0 591.0,1089.0 591.4,1082.0 590.6,1075.0 590.0,1068.0 590.0,1061.0 590.3,1054.0 590.9,1047.0 591.6,1040.0 592.4,1033.0 593.5,1026.0 594.8,1019.0 596.1,1012.0 597.6,1005.0 599.3,998.0 600.8,991.0 602.6,984.0 604.3,977.0 606.3,970.0 608.4,963.0 610.6,956.0 612.5,949.0 614.8,942.0 617.1,935.0 619.3,928.0 621.5,921.0 623.7,914.0 626.2,907.0 628.3,900.0 630.6,893.0 632.8,886.0 634.9,879.0 637.2,872.0 639.3,865.0 641.4,858.0 643.4,851.0 645.1,844.0 646.8,837.0 648.5,830.0 649.9,823.0 651.4,816.0 652.5,809.0 653.5,802.0 654.6,795.0 655.6,788.0 656.3,781.0 656.8,774.0 657.5,767.0 658.0,760.0 658.2,753.0 658.5,746.0 658.5,739.0 658.5,732.0 658.3,725.0 658.3,718.0 658.0,711.0 657.6,704.0 657.1,697.0 656.6,690.0 655.7,683.0 655.0,676.0 654.1,669.0 653.0,662.0 651.9,655.0 650.6,648.0 649.1,641.0 647.6,634.0 646.0,627.0 644.5,620.0 642.6,613.0 640.6,606.0 638.8,599.0 636.6,592.0 634.5,585.0 632.5,578.0 630.5,571.0 628.5,564.0 626.6,557.0 624.9,550.0 623.2,543.0 621.7,536.0 620.4,529.0 619.3,522.0 618.4,515.0 617.5,508.0 616.8,501.0 616.3,494.0 615.8,487.0 615.4,480.0 615.1,473.0 615.0,466.0 614.8,459.0 614.6,452.0 614.7,445.0 614.9,438.0 615.0,431.0 615.3,424.0 615.6,417.0 616.0,410.0 616.5,403.0 617.1,396.0 617.5,389.0 618.3,382.0 619.1,375.0 620.0,368.0 620.8,361.0 621.1,354.0Z" fill="#fff7f7" fill-opacity="0.79"/><path d="M628.9,354.0 628.7,361.0 628.3,368.0 627.5,375.0 626.9,382.0 626.3,389.0 626.0,396.0 625.5,403.0 625.1,410.0 624.8,417.0 624.5,424.0 624.4,431.0 624.4,438.0 624.2,445.0 624.2,452.0 624.5,459.0 624.7,466.0 625.0,473.0 625.4,480.0 625.8,487.0 626.4,494.0 627.0,501.0 627.7,508.0 628.7,515.0 629.7,522.0 630.9,529.0 632.3,536.0 633.9,543.0 635.7,550.0 637.4,557.0 639.4,564.0 641.6,571.0 643.6,578.0 645.7,585.0 647.9,592.0 650.1,599.0 652.0,606.0 654.1,613.0 656.0,620.0 657.5,627.0 659.1,634.0 660.7,641.0 662.2,648.0 663.4,655.0 664.5,662.0 665.7,669.0 666.5,676.0 667.3,683.0 668.2,690.0 668.7,697.0 669.2,704.0 669.6,711.0 670.0,718.0 670.0,725.0 670.1,732.0 670.1,739.0 670.1,746.0 669.8,753.0 669.6,760.0 669.1,767.0 668.5,774.0 667.9,781.0 667.2,788.0 666.2,795.0 665.0,802.0 664.0,809.0 662.8,816.0 661.3,823.0 659.9,830.0 658.1,837.0 656.4,844.0 654.6,851.0 652.6,858.0 650.5,865.0 648.3,872.0 646.0,879.0 643.8,886.0 641.5,893.0 639.2,900.0 637.0,907.0 634.4,914.0 632.1,921.0 629.7,928.0 627.4,935.0 625.0,942.0 622.5,949.0 620.5,956.0 618.1,963.0 615.9,970.0 613.7,977.0 611.8,984.0 609.7,991.0 608.0,998.0 606.1,1005.0 604.4,1012.0 602.8,1019.0 601.2,1026.0 599.9,1033.0 598.7,1040.0 597.6,1047.0 596.7,1054.0 595.9,1061.0 595.3,1068.0 595.2,1075.0 595.2,1082.0 594.0,1089.0 593.2,1096.0 593.0,1100.0 593.2,1100.0 593.9,1096.0 595.3,1089.0 596.8,1082.0 597.1,1075.0 597.4,1068.0 598.3,1061.0 599.2,1054.0 600.4,1047.0 601.6,1040.0 602.9,1033.0 604.4,1026.0 606.1,1019.0 607.8,1012.0 609.6,1005.0 611.6,998.0 613.4,991.0 615.5,984.0 617.5,977.0 619.8,970.0 622.1,963.0 624.6,956.0 626.6,949.0 629.2,942.0 631.6,935.0 634.0,928.0 636.4,921.0 638.8,914.0 641.4,907.0 643.6,900.0 646.0,893.0 648.3,886.0 650.5,879.0 652.8,872.0 655.0,865.0 657.2,858.0 659.2,851.0 661.0,844.0 662.7,837.0 664.5,830.0 665.9,823.0 667.5,816.0 668.7,809.0 669.7,802.0 670.9,795.0 671.9,788.0 672.7,781.0 673.2,774.0 673.8,767.0 674.3,760.0 674.6,753.0 674.8,746.0 674.8,739.0 674.8,732.0 674.7,725.0 674.7,718.0 674.3,711.0 673.9,704.0 673.4,697.0 672.9,690.0 672.0,683.0 671.3,676.0 670.4,669.0 669.3,662.0 668.1,655.0 666.9,648.0 665.4,641.0 663.8,634.0 662.2,627.0 660.7,620.0 658.7,613.0 656.7,606.0 654.7,599.0 652.5,592.0 650.2,585.0 648.1,578.0 646.1,571.0 643.9,564.0 641.8,557.0 640.0,550.0 638.2,543.0 636.6,536.0 635.1,529.0 633.9,522.0 632.9,515.0 631.8,508.0 631.1,501.0 630.5,494.0 629.9,487.0 629.4,480.0 629.0,473.0 628.7,466.0 628.5,459.0 628.2,452.0 628.1,445.0 628.2,438.0 628.2,431.0 628.3,424.0 628.5,417.0 628.8,410.0 629.2,403.0 629.6,396.0 629.9,389.0 630.4,382.0 631.0,375.0 631.6,368.0 631.9,361.0 632.1,354.0Z" fill="#fff6f5" fill-opacity="0.82"/><path d="M640.4,354.0 640.2,361.0 640.4,368.0 639.9,375.0 639.6,382.0 639.2,389.0 639.0,396.0 638.7,403.0 638.4,410.0 638.3,417.0 638.2,424.0 638.2,431.0 638.3,438.0 638.2,445.0 638.4,452.0 638.8,459.0 639.1,466.0 639.5,473.0 640.0,480.0 640.5,487.0 641.2,494.0 641.8,501.0 642.6,508.0 643.8,515.0 644.9,522.0 646.2,529.0 647.7,536.0 649.5,543.0 651.4,550.0 653.3,557.0 655.4,564.0 657.8,571.0 659.9,578.0 662.1,585.0 664.4,592.0 666.8,599.0 668.8,606.0 670.9,613.0 672.9,620.0 674.4,627.0 676.1,634.0 677.6,641.0 679.1,648.0 680.4,655.0 681.5,662.0 682.7,669.0 683.5,676.0 684.3,683.0 685.2,690.0 685.7,697.0 686.2,704.0 686.6,711.0 687.0,718.0 687.0,725.0 687.2,732.0 687.2,739.0 687.2,746.0 686.9,753.0 686.7,760.0 686.2,767.0 685.5,774.0 685.0,781.0 684.2,788.0 683.1,795.0 681.9,802.0 680.9,809.0 679.6,816.0 678.0,823.0 676.6,830.0 674.7,837.0 673.0,844.0 671.2,851.0 669.1,858.0 666.9,865.0 664.6,872.0 662.2,879.0 659.9,886.0 657.6,893.0 655.1,900.0 652.8,907.0 650.1,914.0 647.6,921.0 645.0,928.0 642.5,935.0 640.0,942.0 637.3,949.0 635.1,956.0 632.4,963.0 629.9,970.0 627.5,977.0 625.3,984.0 622.9,991.0 620.8,998.0 618.6,1005.0 616.6,1012.0 614.6,1019.0 612.7,1026.0 610.8,1033.0 609.2,1040.0 607.5,1047.0 605.9,1054.0 604.5,1061.0 603.0,1068.0 602.0,1075.0 600.9,1082.0 598.5,1089.0 595.9,1096.0 593.9,1100.0 594.1,1100.0 596.6,1096.0 599.7,1089.0 602.4,1082.0 603.9,1075.0 605.2,1068.0 606.9,1061.0 608.5,1054.0 610.2,1047.0 612.1,1040.0 613.9,1033.0 615.8,1026.0 617.9,1019.0 620.0,1012.0 622.1,1005.0 624.4,998.0 626.5,991.0 629.0,984.0 631.3,977.0 633.8,970.0 636.4,963.0 639.1,956.0 641.4,949.0 644.1,942.0 646.8,935.0 649.3,928.0 651.9,921.0 654.4,914.0 657.2,907.0 659.5,900.0 662.0,893.0 664.4,886.0 666.8,879.0 669.1,872.0 671.4,865.0 673.6,858.0 675.8,851.0 677.6,844.0 679.4,837.0 681.2,830.0 682.7,823.0 684.3,816.0 685.6,809.0 686.6,802.0 687.8,795.0 688.9,788.0 689.7,781.0 690.3,774.0 690.9,767.0 691.4,760.0 691.7,753.0 691.9,746.0 691.9,739.0 691.9,732.0 691.8,725.0 691.8,718.0 691.4,711.0 691.0,704.0 690.5,697.0 689.9,690.0 689.1,683.0 688.2,676.0 687.4,669.0 686.2,662.0 685.1,655.0 683.8,648.0 682.3,641.0 680.8,634.0 679.1,627.0 677.6,620.0 675.6,613.0 673.5,606.0 671.4,599.0 669.0,592.0 666.7,585.0 664.4,578.0 662.3,571.0 659.9,564.0 657.8,557.0 655.8,550.0 653.8,543.0 652.0,536.0 650.5,529.0 649.1,522.0 648.0,515.0 646.8,508.0 646.0,501.0 645.3,494.0 644.6,487.0 644.0,480.0 643.5,473.0 643.1,466.0 642.8,459.0 642.3,452.0 642.1,445.0 642.1,438.0 642.0,431.0 642.0,424.0 642.0,417.0 642.1,410.0 642.4,403.0 642.7,396.0 642.8,389.0 643.1,382.0 643.4,375.0 643.7,368.0 643.5,361.0 643.6,354.0Z" fill="#fff4f3" fill-opacity="0.85"/><path d="M652.3,354.0 652.2,361.0 652.9,368.0 652.8,375.0 652.7,382.0 652.5,389.0 652.6,396.0 652.4,403.0 652.3,410.0 652.3,417.0 652.3,424.0 652.5,431.0 652.7,438.0 652.8,445.0 653.1,452.0 653.6,459.0 654.0,466.0 654.5,473.0 655.1,480.0 655.7,487.0 656.5,494.0 657.3,501.0 658.2,508.0 659.5,515.0 660.7,522.0 662.1,529.0 663.8,536.0 665.7,543.0 667.7,550.0 669.8,557.0 672.1,564.0 674.6,571.0 676.8,578.0 679.2,585.0 681.6,592.0 684.1,599.0 686.2,606.0 688.4,613.0 690.4,620.0 692.0,627.0 693.6,634.0 695.2,641.0 696.7,648.0 698.0,655.0 699.1,662.0 700.3,669.0 701.1,676.0 702.0,683.0 702.8,690.0 703.4,697.0 703.9,704.0 704.3,711.0 704.7,718.0 704.7,725.0 704.9,732.0 704.9,739.0 704.9,746.0 704.7,753.0 704.4,760.0 703.9,767.0 703.2,774.0 702.6,781.0 701.8,788.0 700.7,795.0 699.5,802.0 698.4,809.0 697.1,816.0 695.4,823.0 693.9,830.0 692.0,837.0 690.2,844.0 688.3,851.0 686.1,858.0 683.9,865.0 681.5,872.0 679.1,879.0 676.7,886.0 674.2,893.0 671.6,900.0 669.2,907.0 666.3,914.0 663.6,921.0 661.0,928.0 658.3,935.0 655.5,942.0 652.6,949.0 650.2,956.0 647.3,963.0 644.5,970.0 641.8,977.0 639.2,984.0 636.5,991.0 634.1,998.0 631.6,1005.0 629.2,1012.0 626.9,1019.0 624.5,1026.0 622.2,1033.0 620.0,1040.0 617.7,1047.0 615.6,1054.0 613.4,1061.0 611.1,1068.0 609.1,1075.0 606.7,1082.0 603.1,1089.0 598.7,1096.0 594.8,1100.0 595.1,1100.0 599.4,1096.0 604.4,1089.0 608.3,1082.0 611.0,1075.0 613.2,1068.0 615.8,1061.0 618.2,1054.0 620.5,1047.0 622.9,1040.0 625.2,1033.0 627.7,1026.0 630.2,1019.0 632.6,1012.0 635.1,1005.0 637.7,998.0 640.2,991.0 643.0,984.0 645.6,977.0 648.4,970.0 651.3,963.0 654.2,956.0 656.7,949.0 659.6,942.0 662.5,935.0 665.2,928.0 668.0,921.0 670.7,914.0 673.6,907.0 676.1,900.0 678.7,893.0 681.2,886.0 683.6,879.0 686.1,872.0 688.4,865.0 690.7,858.0 692.9,851.0 694.9,844.0 696.6,837.0 698.6,830.0 700.1,823.0 701.8,816.0 703.1,809.0 704.2,802.0 705.4,795.0 706.5,788.0 707.4,781.0 708.0,774.0 708.7,767.0 709.2,760.0 709.4,753.0 709.7,746.0 709.7,739.0 709.7,732.0 709.5,725.0 709.5,718.0 709.1,711.0 708.6,704.0 708.1,697.0 707.5,690.0 706.7,683.0 705.9,676.0 705.0,669.0 703.9,662.0 702.7,655.0 701.4,648.0 699.9,641.0 698.3,634.0 696.7,627.0 695.1,620.0 693.0,613.0 690.8,606.0 688.7,599.0 686.2,592.0 683.8,585.0 681.4,578.0 679.1,571.0 676.6,564.0 674.3,557.0 672.1,550.0 670.0,543.0 668.1,536.0 666.4,529.0 664.9,522.0 663.7,515.0 662.3,508.0 661.4,501.0 660.6,494.0 659.8,487.0 659.2,480.0 658.5,473.0 658.0,466.0 657.6,459.0 657.0,452.0 656.7,445.0 656.6,438.0 656.3,431.0 656.1,424.0 656.0,417.0 656.0,410.0 656.1,403.0 656.2,396.0 656.1,389.0 656.3,382.0 656.3,375.0 656.3,368.0 655.4,361.0 655.5,354.0Z" fill="#fff2f1" fill-opacity="0.88"/></g><g id="rdr"><path d="M658.2,354.0 658.1,361.0 659.1,368.0 659.2,375.0 659.3,382.0 659.2,389.0 659.3,396.0 659.2,403.0 659.1,410.0 659.2,417.0 659.3,424.0 659.5,431.0 659.8,438.0 660.0,445.0 660.3,452.0 660.9,459.0 661.4,466.0 661.9,473.0 662.6,480.0 663.3,487.0 664.1,494.0 664.9,501.0 665.9,508.0 667.2,515.0 668.5,522.0 670.0,529.0 671.7,536.0 673.7,543.0 675.8,550.0 678.0,557.0 680.4,564.0 682.9,571.0 685.2,578.0 687.6,585.0 690.1,592.0 692.7,599.0 694.8,606.0 697.0,613.0 699.0,620.0 700.7,627.0 702.3,634.0 703.9,641.0 705.4,648.0 706.7,655.0 707.9,662.0 709.0,669.0 709.9,676.0 710.7,683.0 711.5,690.0 712.1,697.0 712.6,704.0 713.1,711.0 713.5,718.0 713.5,725.0 713.7,732.0 713.7,739.0 713.7,746.0 713.4,753.0 713.2,760.0 712.7,767.0 712.0,774.0 711.4,781.0 710.5,788.0 709.4,795.0 708.2,802.0 707.0,809.0 705.8,816.0 704.0,823.0 702.5,830.0 700.6,837.0 698.8,844.0 696.8,851.0 694.6,858.0 692.3,865.0 689.9,872.0 687.5,879.0 685.0,886.0 682.5,893.0 679.8,900.0 677.3,907.0 674.4,914.0 671.6,921.0 668.8,928.0 666.1,935.0 663.2,942.0 660.2,949.0 657.6,956.0 654.6,963.0 651.7,970.0 648.9,977.0 646.2,984.0 643.3,991.0 640.7,998.0 638.0,1005.0 635.4,1012.0 633.0,1019.0 630.4,1026.0 627.8,1033.0 625.4,1040.0 622.8,1047.0 620.3,1054.0 617.8,1061.0 615.1,1068.0 612.6,1075.0 609.6,1082.0 605.4,1089.0 600.1,1096.0 595.3,1100.0 595.7,1100.0 601.5,1096.0 607.7,1089.0 612.5,1082.0 616.1,1075.0 619.0,1068.0 622.2,1061.0 625.1,1054.0 627.9,1047.0 630.7,1040.0 633.4,1033.0 636.2,1026.0 639.0,1019.0 641.7,1012.0 644.4,1005.0 647.3,998.0 650.0,991.0 653.1,984.0 655.9,977.0 658.9,970.0 662.0,963.0 665.1,956.0 667.8,949.0 670.8,942.0 673.8,935.0 676.7,928.0 679.6,921.0 682.4,914.0 685.4,907.0 688.0,900.0 690.7,893.0 693.2,886.0 695.8,879.0 698.3,872.0 700.7,865.0 703.0,858.0 705.3,851.0 707.3,844.0 709.1,837.0 711.1,830.0 712.6,823.0 714.4,816.0 715.7,809.0 716.8,802.0 718.1,795.0 719.3,788.0 720.1,781.0 720.8,774.0 721.4,767.0 721.9,760.0 722.2,753.0 722.4,746.0 722.4,739.0 722.4,732.0 722.3,725.0 722.3,718.0 721.8,711.0 721.4,704.0 720.9,697.0 720.3,690.0 719.5,683.0 718.6,676.0 717.8,669.0 716.6,662.0 715.4,655.0 714.1,648.0 712.6,641.0 711.0,634.0 709.3,627.0 707.7,620.0 705.6,613.0 703.4,606.0 701.2,599.0 698.7,592.0 696.1,585.0 693.6,578.0 691.2,571.0 688.6,564.0 686.2,557.0 683.9,550.0 681.7,543.0 679.7,536.0 677.9,529.0 676.3,522.0 675.0,515.0 673.5,508.0 672.6,501.0 671.7,494.0 670.8,487.0 670.1,480.0 669.3,473.0 668.8,466.0 668.3,459.0 667.6,452.0 667.2,445.0 667.0,438.0 666.6,431.0 666.3,424.0 666.1,417.0 666.0,410.0 666.0,403.0 666.0,396.0 665.8,389.0 665.8,382.0 665.6,375.0 665.4,368.0 664.1,361.0 664.0,354.0Z" fill="#63282d" fill-opacity="0.91"/><path d="M669.9,354.0 670.0,361.0 671.5,368.0 671.9,375.0 672.2,382.0 672.3,389.0 672.6,396.0 672.7,403.0 672.8,410.0 673.0,417.0 673.3,424.0 673.6,431.0 674.1,438.0 674.4,445.0 674.8,452.0 675.5,459.0 676.1,466.0 676.7,473.0 677.6,480.0 678.3,487.0 679.2,494.0 680.1,501.0 681.2,508.0 682.7,515.0 684.0,522.0 685.7,529.0 687.6,536.0 689.7,543.0 691.9,550.0 694.3,557.0 696.8,564.0 699.5,571.0 701.9,578.0 704.5,585.0 707.1,592.0 709.7,599.0 711.9,606.0 714.2,613.0 716.3,620.0 718.0,627.0 719.7,634.0 721.3,641.0 722.8,648.0 724.0,655.0 725.2,662.0 726.4,669.0 727.2,676.0 728.1,683.0 728.9,690.0 729.6,697.0 730.1,704.0 730.5,711.0 731.0,718.0 731.0,725.0 731.2,732.0 731.2,739.0 731.2,746.0 730.9,753.0 730.7,760.0 730.2,767.0 729.5,774.0 728.8,781.0 727.9,788.0 726.8,795.0 725.5,802.0 724.3,809.0 723.0,816.0 721.2,823.0 719.6,830.0 717.6,837.0 715.7,844.0 713.7,851.0 711.4,858.0 709.1,865.0 706.6,872.0 704.1,879.0 701.5,886.0 698.9,893.0 696.1,900.0 693.5,907.0 690.4,914.0 687.5,921.0 684.5,928.0 681.6,935.0 678.5,942.0 675.3,949.0 672.5,956.0 669.3,963.0 666.1,970.0 663.0,977.0 660.0,984.0 656.7,991.0 653.8,998.0 650.8,1005.0 647.9,1012.0 645.0,1019.0 642.0,1026.0 639.0,1033.0 636.1,1040.0 632.9,1047.0 629.8,1054.0 626.6,1061.0 623.0,1068.0 619.5,1075.0 615.4,1082.0 610.0,1089.0 602.8,1096.0 596.2,1100.0 596.7,1100.0 604.4,1096.0 612.6,1089.0 618.7,1082.0 623.5,1075.0 627.5,1068.0 631.5,1061.0 635.2,1054.0 638.6,1047.0 642.1,1040.0 645.3,1033.0 648.6,1026.0 651.9,1019.0 654.9,1012.0 658.0,1005.0 661.2,998.0 664.3,991.0 667.7,984.0 670.9,977.0 674.2,970.0 677.5,963.0 680.9,956.0 683.8,949.0 687.1,942.0 690.3,935.0 693.4,928.0 696.4,921.0 699.5,914.0 702.6,907.0 705.3,900.0 708.2,893.0 710.8,886.0 713.5,879.0 716.0,872.0 718.6,865.0 720.9,858.0 723.3,851.0 725.3,844.0 727.2,837.0 729.3,830.0 730.9,823.0 732.7,816.0 734.1,809.0 735.2,802.0 736.6,795.0 737.8,788.0 738.7,781.0 739.3,774.0 740.0,767.0 740.5,760.0 740.8,753.0 741.0,746.0 741.0,739.0 741.0,732.0 740.8,725.0 740.8,718.0 740.4,711.0 739.9,704.0 739.4,697.0 738.8,690.0 738.0,683.0 737.0,676.0 736.3,669.0 735.0,662.0 733.8,655.0 732.6,648.0 731.1,641.0 729.4,634.0 727.7,627.0 726.1,620.0 724.0,613.0 721.6,606.0 719.4,599.0 716.7,592.0 714.0,585.0 711.4,578.0 708.8,571.0 706.1,564.0 703.5,557.0 701.0,550.0 698.7,543.0 696.5,536.0 694.6,529.0 692.8,522.0 691.4,515.0 689.8,508.0 688.7,501.0 687.8,494.0 686.8,487.0 686.0,480.0 685.1,473.0 684.4,466.0 683.8,459.0 683.0,452.0 682.5,445.0 682.1,438.0 681.6,431.0 681.2,424.0 680.8,417.0 680.5,410.0 680.4,403.0 680.2,396.0 679.8,389.0 679.6,382.0 679.1,375.0 678.5,368.0 676.6,361.0 676.5,354.0Z" fill="#541b20" fill-opacity="0.97"/><path d="M681.9,354.0 682.1,361.0 684.3,368.0 685.0,375.0 685.6,382.0 685.9,389.0 686.4,396.0 686.6,403.0 686.9,410.0 687.2,417.0 687.7,424.0 688.1,431.0 688.7,438.0 689.1,445.0 689.7,452.0 690.5,459.0 691.3,466.0 692.0,473.0 692.9,480.0 693.7,487.0 694.8,494.0 695.8,501.0 696.9,508.0 698.5,515.0 700.1,522.0 701.9,529.0 703.8,536.0 706.1,543.0 708.5,550.0 711.0,557.0 713.7,564.0 716.5,571.0 719.1,578.0 721.8,585.0 724.5,592.0 727.3,599.0 729.6,606.0 731.9,613.0 734.1,620.0 735.8,627.0 737.5,634.0 739.1,641.0 740.6,648.0 741.9,655.0 743.1,662.0 744.3,669.0 745.1,676.0 746.0,683.0 746.8,690.0 747.5,697.0 748.0,704.0 748.5,711.0 748.9,718.0 748.9,725.0 749.1,732.0 749.1,739.0 749.1,746.0 748.9,753.0 748.6,760.0 748.1,767.0 747.4,774.0 746.7,781.0 745.8,788.0 744.6,795.0 743.3,802.0 742.1,809.0 740.7,816.0 738.8,823.0 737.2,830.0 735.1,837.0 733.2,844.0 731.1,851.0 728.7,858.0 726.3,865.0 723.8,872.0 721.2,879.0 718.4,886.0 715.8,893.0 712.9,900.0 710.1,907.0 706.9,914.0 703.8,921.0 700.6,928.0 697.5,935.0 694.2,942.0 690.9,949.0 687.8,956.0 684.3,963.0 680.9,970.0 677.5,977.0 674.1,984.0 670.6,991.0 667.3,998.0 664.0,1005.0 660.7,1012.0 657.5,1019.0 654.0,1026.0 650.5,1033.0 647.1,1040.0 643.3,1047.0 639.6,1054.0 635.6,1061.0 631.1,1068.0 626.7,1075.0 621.4,1082.0 614.7,1089.0 605.7,1096.0 597.1,1100.0 597.7,1100.0 607.4,1096.0 617.5,1089.0 624.9,1082.0 630.9,1075.0 636.0,1068.0 640.9,1061.0 645.4,1054.0 649.5,1047.0 653.6,1040.0 657.3,1033.0 661.2,1026.0 664.8,1019.0 668.3,1012.0 671.7,1005.0 675.3,998.0 678.8,991.0 682.5,984.0 686.1,977.0 689.6,970.0 693.2,963.0 696.9,956.0 700.0,949.0 703.5,942.0 707.0,935.0 710.2,928.0 713.4,921.0 716.7,914.0 720.0,907.0 722.8,900.0 725.8,893.0 728.5,886.0 731.3,879.0 733.9,872.0 736.6,865.0 739.0,858.0 741.4,851.0 743.5,844.0 745.5,837.0 747.6,830.0 749.3,823.0 751.2,816.0 752.6,809.0 753.8,802.0 755.2,795.0 756.4,788.0 757.4,781.0 758.1,774.0 758.8,767.0 759.3,760.0 759.5,753.0 759.8,746.0 759.8,739.0 759.8,732.0 759.6,725.0 759.6,718.0 759.1,711.0 758.6,704.0 758.1,697.0 757.4,690.0 756.6,683.0 755.7,676.0 754.9,669.0 753.7,662.0 752.5,655.0 751.2,648.0 749.7,641.0 748.0,634.0 746.3,627.0 744.6,620.0 742.4,613.0 740.0,606.0 737.6,599.0 734.9,592.0 732.0,585.0 729.3,578.0 726.6,571.0 723.7,564.0 720.9,557.0 718.3,550.0 715.8,543.0 713.5,536.0 711.4,529.0 709.5,522.0 707.9,515.0 706.3,508.0 705.1,501.0 704.0,494.0 702.9,487.0 702.0,480.0 701.0,473.0 700.2,466.0 699.4,459.0 698.5,452.0 697.8,445.0 697.4,438.0 696.7,431.0 696.2,424.0 695.6,417.0 695.2,410.0 694.9,403.0 694.5,396.0 693.9,389.0 693.5,382.0 692.8,375.0 691.8,368.0 689.3,361.0 689.1,354.0Z" fill="#4b1319" fill-opacity="1.00"/><path d="M694.3,354.0 694.6,361.0 697.3,368.0 698.4,375.0 699.3,382.0 699.8,389.0 700.5,396.0 700.9,403.0 701.3,410.0 701.8,417.0 702.4,424.0 703.0,431.0 703.7,438.0 704.3,445.0 705.0,452.0 706.0,459.0 706.8,466.0 707.6,473.0 708.7,480.0 709.6,487.0 710.8,494.0 711.9,501.0 713.1,508.0 714.8,515.0 716.5,522.0 718.4,529.0 720.5,536.0 723.0,543.0 725.5,550.0 728.2,557.0 731.1,564.0 734.0,571.0 736.7,578.0 739.5,585.0 742.5,592.0 745.3,599.0 747.7,606.0 750.1,613.0 752.3,620.0 754.0,627.0 755.8,634.0 757.5,641.0 759.0,648.0 760.2,655.0 761.5,662.0 762.7,669.0 763.5,676.0 764.4,683.0 765.2,690.0 765.9,697.0 766.4,704.0 766.9,711.0 767.4,718.0 767.4,725.0 767.6,732.0 767.6,739.0 767.6,746.0 767.3,753.0 767.1,760.0 766.6,767.0 765.9,774.0 765.2,781.0 764.2,788.0 763.0,795.0 761.5,802.0 760.3,809.0 758.9,816.0 756.9,823.0 755.2,830.0 753.1,837.0 751.1,844.0 748.9,851.0 746.5,858.0 744.1,865.0 741.4,872.0 738.7,879.0 735.9,886.0 733.2,893.0 730.1,900.0 727.2,907.0 723.9,914.0 720.5,921.0 717.2,928.0 713.9,935.0 710.4,942.0 706.8,949.0 703.5,956.0 699.8,963.0 696.1,970.0 692.4,977.0 688.7,984.0 684.8,991.0 681.1,998.0 677.5,1005.0 673.8,1012.0 670.2,1019.0 666.4,1026.0 662.4,1033.0 658.4,1040.0 654.0,1047.0 649.6,1054.0 644.9,1061.0 639.5,1068.0 634.0,1075.0 627.5,1082.0 619.5,1089.0 608.6,1096.0 598.1,1100.0 598.6,1100.0 610.4,1096.0 622.4,1089.0 631.1,1082.0 638.4,1075.0 644.5,1068.0 650.4,1061.0 655.6,1054.0 660.3,1047.0 665.1,1040.0 669.4,1033.0 673.7,1026.0 677.8,1019.0 681.6,1012.0 685.5,1005.0 689.4,998.0 693.2,991.0 697.3,984.0 701.2,977.0 705.1,970.0 709.0,963.0 712.9,956.0 716.3,949.0 720.0,942.0 723.6,935.0 727.1,928.0 730.5,921.0 733.9,914.0 737.4,907.0 740.3,900.0 743.5,893.0 746.2,886.0 749.2,879.0 751.9,872.0 754.6,865.0 757.1,858.0 759.6,851.0 761.8,844.0 763.8,837.0 766.0,830.0 767.7,823.0 769.7,816.0 771.2,809.0 772.4,802.0 773.9,795.0 775.1,788.0 776.1,781.0 776.8,774.0 777.6,767.0 778.1,760.0 778.3,753.0 778.6,746.0 778.6,739.0 778.6,732.0 778.3,725.0 778.3,718.0 777.8,711.0 777.3,704.0 776.8,697.0 776.1,690.0 775.3,683.0 774.4,676.0 773.6,669.0 772.4,662.0 771.1,655.0 769.9,648.0 768.4,641.0 766.6,634.0 764.9,627.0 763.2,620.0 760.9,613.0 758.5,606.0 756.0,599.0 753.1,592.0 750.1,585.0 747.2,578.0 744.5,571.0 741.4,564.0 738.4,557.0 735.6,550.0 733.0,543.0 730.5,536.0 728.3,529.0 726.3,522.0 724.5,515.0 722.7,508.0 721.4,501.0 720.3,494.0 719.0,487.0 718.1,480.0 716.9,473.0 716.0,466.0 715.1,459.0 714.0,452.0 713.3,445.0 712.6,438.0 711.9,431.0 711.2,424.0 710.5,417.0 709.9,410.0 709.4,403.0 708.8,396.0 708.1,389.0 707.4,382.0 706.4,375.0 705.1,368.0 702.0,361.0 701.6,354.0Z" fill="#4a1218" fill-opacity="1.00"/></g><g id="rhr"><path d="M664.5,354.0 664.5,361.0 665.8,368.0 666.1,375.0 666.3,382.0 666.3,389.0 666.5,396.0 666.5,403.0 666.5,410.0 666.7,417.0 666.9,424.0 667.2,431.0 667.5,438.0 667.8,445.0 668.2,452.0 668.8,459.0 669.4,466.0 669.9,473.0 670.7,480.0 671.4,487.0 672.3,494.0 673.2,501.0 674.2,508.0 675.6,515.0 676.9,522.0 678.5,529.0 680.3,536.0 682.3,543.0 684.6,550.0 686.8,557.0 689.3,564.0 691.9,571.0 694.3,578.0 696.7,585.0 699.3,592.0 701.9,599.0 704.1,606.0 706.3,613.0 708.4,620.0 710.0,627.0 711.7,634.0 713.3,641.0 714.8,648.0 716.1,655.0 717.3,662.0 718.5,669.0 719.3,676.0 720.1,683.0 721.0,690.0 721.6,697.0 722.1,704.0 722.5,711.0 723.0,718.0 723.0,725.0 723.1,732.0 723.1,739.0 723.1,746.0 722.9,753.0 722.6,760.0 722.1,767.0 721.5,774.0 720.8,781.0 720.0,788.0 718.8,795.0 717.5,802.0 716.4,809.0 715.1,816.0 713.3,823.0 711.8,830.0 709.8,837.0 708.0,844.0 706.0,851.0 703.7,858.0 701.4,865.0 699.0,872.0 696.5,879.0 693.9,886.0 691.4,893.0 688.6,900.0 686.1,907.0 683.1,914.0 680.2,921.0 677.3,928.0 674.5,935.0 671.4,942.0 668.4,949.0 665.7,956.0 662.6,963.0 659.5,970.0 656.5,977.0 653.6,984.0 650.6,991.0 647.8,998.0 644.9,1005.0 642.2,1012.0 639.5,1019.0 636.7,1026.0 633.9,1033.0 631.2,1040.0 628.3,1047.0 625.5,1054.0 622.5,1061.0 619.4,1068.0 616.3,1075.0 612.8,1082.0 607.9,1089.0 601.6,1096.0 595.8,1100.0 596.0,1100.0 602.3,1096.0 609.1,1089.0 614.3,1082.0 618.2,1075.0 621.5,1068.0 624.9,1061.0 628.1,1054.0 631.0,1047.0 634.1,1040.0 636.9,1033.0 639.9,1026.0 642.8,1019.0 645.6,1012.0 648.4,1005.0 651.4,998.0 654.2,991.0 657.4,984.0 660.3,977.0 663.4,970.0 666.5,963.0 669.7,956.0 672.5,949.0 675.6,942.0 678.7,935.0 681.6,928.0 684.5,921.0 687.4,914.0 690.5,907.0 693.1,900.0 695.9,893.0 698.4,886.0 701.0,879.0 703.5,872.0 705.9,865.0 708.3,858.0 710.5,851.0 712.6,844.0 714.4,837.0 716.4,830.0 718.0,823.0 719.8,816.0 721.1,809.0 722.2,802.0 723.5,795.0 724.7,788.0 725.6,781.0 726.2,774.0 726.9,767.0 727.4,760.0 727.6,753.0 727.9,746.0 727.9,739.0 727.9,732.0 727.7,725.0 727.7,718.0 727.3,711.0 726.8,704.0 726.3,697.0 725.7,690.0 724.9,683.0 724.0,676.0 723.2,669.0 722.0,662.0 720.8,655.0 719.5,648.0 718.0,641.0 716.4,634.0 714.7,627.0 713.1,620.0 711.0,613.0 708.7,606.0 706.5,599.0 703.9,592.0 701.3,585.0 698.8,578.0 696.4,571.0 693.7,564.0 691.2,557.0 688.9,550.0 686.7,543.0 684.6,536.0 682.8,529.0 681.1,522.0 679.8,515.0 678.3,508.0 677.3,501.0 676.4,494.0 675.5,487.0 674.8,480.0 674.0,473.0 673.4,466.0 672.8,459.0 672.1,452.0 671.7,445.0 671.4,438.0 671.0,431.0 670.7,424.0 670.4,417.0 670.2,410.0 670.2,403.0 670.1,396.0 669.9,389.0 669.8,382.0 669.6,375.0 669.2,368.0 667.7,361.0 667.7,354.0Z" fill="#fff0ef" fill-opacity="0.91"/><path d="M677.0,354.0 677.1,361.0 679.0,368.0 679.6,375.0 680.1,382.0 680.3,389.0 680.7,396.0 680.9,403.0 681.1,410.0 681.4,417.0 681.8,424.0 682.2,431.0 682.7,438.0 683.0,445.0 683.6,452.0 684.4,459.0 685.0,466.0 685.7,473.0 686.6,480.0 687.4,487.0 688.4,494.0 689.4,501.0 690.5,508.0 692.0,515.0 693.5,522.0 695.2,529.0 697.1,536.0 699.3,543.0 701.7,550.0 704.2,557.0 706.8,564.0 709.5,571.0 712.0,578.0 714.7,585.0 717.4,592.0 720.1,599.0 722.3,606.0 724.7,613.0 726.8,620.0 728.4,627.0 730.1,634.0 731.8,641.0 733.3,648.0 734.6,655.0 735.8,662.0 737.0,669.0 737.8,676.0 738.7,683.0 739.5,690.0 740.1,697.0 740.6,704.0 741.1,711.0 741.5,718.0 741.5,725.0 741.8,732.0 741.8,739.0 741.8,746.0 741.5,753.0 741.3,760.0 740.8,767.0 740.0,774.0 739.4,781.0 738.5,788.0 737.3,795.0 735.9,802.0 734.8,809.0 733.4,816.0 731.6,823.0 730.0,830.0 727.9,837.0 726.0,844.0 723.9,851.0 721.6,858.0 719.3,865.0 716.7,872.0 714.2,879.0 711.5,886.0 708.9,893.0 706.0,900.0 703.3,907.0 700.1,914.0 697.1,921.0 694.0,928.0 691.0,935.0 687.7,942.0 684.5,949.0 681.5,956.0 678.2,963.0 674.8,970.0 671.5,977.0 668.3,984.0 664.9,991.0 661.8,998.0 658.6,1005.0 655.4,1012.0 652.3,1019.0 649.1,1026.0 645.8,1033.0 642.6,1040.0 639.1,1047.0 635.6,1054.0 631.9,1061.0 627.8,1068.0 623.7,1075.0 618.9,1082.0 612.8,1089.0 604.5,1096.0 596.7,1100.0 597.0,1100.0 605.3,1096.0 614.0,1089.0 620.5,1082.0 625.6,1075.0 629.9,1068.0 634.3,1061.0 638.2,1054.0 641.8,1047.0 645.5,1040.0 648.8,1033.0 652.3,1026.0 655.6,1019.0 658.8,1012.0 662.0,1005.0 665.3,998.0 668.5,991.0 672.0,984.0 675.3,977.0 678.7,970.0 682.1,963.0 685.6,956.0 688.6,949.0 691.9,942.0 695.2,935.0 698.3,928.0 701.4,921.0 704.5,914.0 707.7,907.0 710.4,900.0 713.3,893.0 715.9,886.0 718.7,879.0 721.3,872.0 723.8,865.0 726.2,858.0 728.5,851.0 730.6,844.0 732.5,837.0 734.6,830.0 736.2,823.0 738.1,816.0 739.5,809.0 740.6,802.0 742.0,795.0 743.2,788.0 744.1,781.0 744.8,774.0 745.5,767.0 746.0,760.0 746.3,753.0 746.5,746.0 746.5,739.0 746.5,732.0 746.3,725.0 746.3,718.0 745.8,711.0 745.4,704.0 744.9,697.0 744.2,690.0 743.4,683.0 742.5,676.0 741.7,669.0 740.5,662.0 739.3,655.0 738.0,648.0 736.5,641.0 734.9,634.0 733.1,627.0 731.5,620.0 729.3,613.0 727.0,606.0 724.7,599.0 722.0,592.0 719.2,585.0 716.6,578.0 714.0,571.0 711.2,564.0 708.6,557.0 706.1,550.0 703.7,543.0 701.4,536.0 699.5,529.0 697.7,522.0 696.2,515.0 694.6,508.0 693.5,501.0 692.5,494.0 691.5,487.0 690.7,480.0 689.7,473.0 689.0,466.0 688.3,459.0 687.5,452.0 686.9,445.0 686.5,438.0 686.0,431.0 685.6,424.0 685.1,417.0 684.8,410.0 684.6,403.0 684.3,396.0 683.9,389.0 683.6,382.0 683.1,375.0 682.4,368.0 680.3,361.0 680.2,354.0Z" fill="#ffefed" fill-opacity="0.93"/><path d="M689.5,354.0 689.8,361.0 692.3,368.0 693.3,375.0 694.0,382.0 694.5,389.0 695.1,396.0 695.5,403.0 695.7,410.0 696.2,417.0 696.7,424.0 697.3,431.0 698.0,438.0 698.4,445.0 699.1,452.0 700.0,459.0 700.8,466.0 701.6,473.0 702.6,480.0 703.5,487.0 704.6,494.0 705.7,501.0 706.9,508.0 708.6,515.0 710.2,522.0 712.1,529.0 714.1,536.0 716.5,543.0 719.0,550.0 721.6,557.0 724.4,564.0 727.3,571.0 730.0,578.0 732.7,585.0 735.6,592.0 738.4,599.0 740.7,606.0 743.1,613.0 745.3,620.0 747.0,627.0 748.7,634.0 750.4,641.0 751.9,648.0 753.2,655.0 754.4,662.0 755.6,669.0 756.4,676.0 757.4,683.0 758.1,690.0 758.8,697.0 759.3,704.0 759.8,711.0 760.3,718.0 760.3,725.0 760.5,732.0 760.5,739.0 760.5,746.0 760.3,753.0 760.0,760.0 759.5,767.0 758.8,774.0 758.1,781.0 757.1,788.0 755.9,795.0 754.5,802.0 753.3,809.0 751.9,816.0 750.0,823.0 748.3,830.0 746.2,837.0 744.2,844.0 742.1,851.0 739.7,858.0 737.3,865.0 734.6,872.0 732.0,879.0 729.2,886.0 726.5,893.0 723.5,900.0 720.7,907.0 717.4,914.0 714.1,921.0 710.9,928.0 707.6,935.0 704.2,942.0 700.7,949.0 697.5,956.0 693.9,963.0 690.2,970.0 686.6,977.0 683.1,984.0 679.3,991.0 675.8,998.0 672.3,1005.0 668.8,1012.0 665.3,1019.0 661.6,1026.0 657.8,1033.0 654.1,1040.0 649.9,1047.0 645.8,1054.0 641.3,1061.0 636.3,1068.0 631.2,1075.0 625.1,1082.0 617.7,1089.0 607.5,1096.0 597.7,1100.0 597.9,1100.0 608.3,1096.0 618.9,1089.0 626.7,1082.0 633.1,1075.0 638.5,1068.0 643.7,1061.0 648.4,1054.0 652.7,1047.0 657.0,1040.0 660.9,1033.0 664.9,1026.0 668.6,1019.0 672.2,1012.0 675.8,1005.0 679.4,998.0 683.0,991.0 686.9,984.0 690.5,977.0 694.2,970.0 697.9,963.0 701.6,956.0 704.8,949.0 708.4,942.0 711.9,935.0 715.2,928.0 718.5,921.0 721.8,914.0 725.1,907.0 728.0,900.0 731.0,893.0 733.7,886.0 736.6,879.0 739.2,872.0 741.9,865.0 744.3,858.0 746.7,851.0 748.9,844.0 750.8,837.0 753.0,830.0 754.7,823.0 756.6,816.0 758.1,809.0 759.3,802.0 760.7,795.0 761.9,788.0 762.9,781.0 763.6,774.0 764.3,767.0 764.8,760.0 765.1,753.0 765.3,746.0 765.3,739.0 765.3,732.0 765.1,725.0 765.1,718.0 764.6,711.0 764.1,704.0 763.6,697.0 762.9,690.0 762.2,683.0 761.2,676.0 760.4,669.0 759.2,662.0 758.0,655.0 756.7,648.0 755.2,641.0 753.5,634.0 751.8,627.0 750.1,620.0 747.9,613.0 745.5,606.0 743.1,599.0 740.2,592.0 737.3,585.0 734.6,578.0 731.9,571.0 728.9,564.0 726.1,557.0 723.4,550.0 720.9,543.0 718.5,536.0 716.4,529.0 714.5,522.0 712.8,515.0 711.1,508.0 709.9,501.0 708.8,494.0 707.6,487.0 706.7,480.0 705.7,473.0 704.9,466.0 704.1,459.0 703.1,452.0 702.4,445.0 701.9,438.0 701.2,431.0 700.6,424.0 700.0,417.0 699.5,410.0 699.2,403.0 698.7,396.0 698.1,389.0 697.6,382.0 696.8,375.0 695.7,368.0 693.0,361.0 692.8,354.0Z" fill="#ffeeec" fill-opacity="0.95"/><path d="M702.2,354.0 702.5,361.0 705.6,368.0 707.0,375.0 708.0,382.0 708.6,389.0 709.4,396.0 710.0,403.0 710.4,410.0 711.1,417.0 711.8,424.0 712.5,431.0 713.3,438.0 713.9,445.0 714.7,452.0 715.7,459.0 716.7,466.0 717.5,473.0 718.7,480.0 719.7,487.0 720.9,494.0 722.1,501.0 723.4,508.0 725.2,515.0 726.9,522.0 729.0,529.0 731.2,536.0 733.7,543.0 736.3,550.0 739.1,557.0 742.1,564.0 745.2,571.0 747.9,578.0 750.8,585.0 753.8,592.0 756.7,599.0 759.2,606.0 761.7,613.0 763.9,620.0 765.6,627.0 767.4,634.0 769.1,641.0 770.6,648.0 771.9,655.0 773.1,662.0 774.4,669.0 775.1,676.0 776.1,683.0 776.9,690.0 777.6,697.0 778.1,704.0 778.6,711.0 779.1,718.0 779.1,725.0 779.3,732.0 779.3,739.0 779.3,746.0 779.1,753.0 778.8,760.0 778.3,767.0 777.6,774.0 776.8,781.0 775.9,788.0 774.6,795.0 773.1,802.0 771.9,809.0 770.4,816.0 768.4,823.0 766.7,830.0 764.5,837.0 762.5,844.0 760.3,851.0 757.8,858.0 755.3,865.0 752.6,872.0 749.9,879.0 746.9,886.0 744.2,893.0 741.0,900.0 738.1,907.0 734.6,914.0 731.2,921.0 727.7,928.0 724.3,935.0 720.6,942.0 716.9,949.0 713.5,956.0 709.6,963.0 705.7,970.0 701.8,977.0 697.9,984.0 693.8,991.0 689.9,998.0 686.0,1005.0 682.2,1012.0 678.3,1019.0 674.2,1026.0 669.9,1033.0 665.6,1040.0 660.8,1047.0 656.0,1054.0 650.8,1061.0 644.8,1068.0 638.7,1075.0 631.4,1082.0 622.6,1089.0 610.5,1096.0 598.7,1100.0 598.9,1100.0 611.3,1096.0 623.9,1089.0 633.0,1082.0 640.6,1075.0 647.1,1068.0 653.2,1061.0 658.7,1054.0 663.6,1047.0 668.6,1040.0 673.0,1033.0 677.5,1026.0 681.7,1019.0 685.7,1012.0 689.6,1005.0 693.6,998.0 697.6,991.0 701.8,984.0 705.8,977.0 709.8,970.0 713.7,963.0 717.7,956.0 721.2,949.0 724.9,942.0 728.7,935.0 732.1,928.0 735.6,921.0 739.1,914.0 742.6,907.0 745.6,900.0 748.8,893.0 751.6,886.0 754.6,879.0 757.3,872.0 760.0,865.0 762.5,858.0 765.0,851.0 767.3,844.0 769.3,837.0 771.5,830.0 773.3,823.0 775.3,816.0 776.8,809.0 778.0,802.0 779.5,795.0 780.7,788.0 781.7,781.0 782.5,774.0 783.2,767.0 783.7,760.0 784.0,753.0 784.2,746.0 784.2,739.0 784.2,732.0 784.0,725.0 784.0,718.0 783.5,711.0 783.0,704.0 782.5,697.0 781.7,690.0 781.0,683.0 780.0,676.0 779.2,669.0 778.0,662.0 776.7,655.0 775.5,648.0 774.0,641.0 772.3,634.0 770.5,627.0 768.8,620.0 766.5,613.0 764.0,606.0 761.5,599.0 758.6,592.0 755.6,585.0 752.6,578.0 749.8,571.0 746.7,564.0 743.7,557.0 740.9,550.0 738.2,543.0 735.6,536.0 733.4,529.0 731.3,522.0 729.5,515.0 727.7,508.0 726.4,501.0 725.2,494.0 723.9,487.0 722.9,480.0 721.7,473.0 720.8,466.0 719.8,459.0 718.7,452.0 717.9,445.0 717.3,438.0 716.5,431.0 715.7,424.0 715.0,417.0 714.3,410.0 713.8,403.0 713.2,396.0 712.3,389.0 711.7,382.0 710.5,375.0 709.1,368.0 705.8,361.0 705.4,354.0Z" fill="#ffeeec" fill-opacity="0.95"/></g>
<clipPath id="pc"><path d="M590,359 C640,362 680,420 716,504 C733,543.5 758.2,578.7 770,620 C781.3,659.4 786,701 786,742 C786,830 745,915 694,1000 C675,1035 652,1070 627,1088 C612,1098 602,1101 593,1101 C578,1101 562,1094 550,1082 C526,1066 509,1038 507,1000 C502,970 506,930 520,870 C535,810 540,720 530,660 C522,610 506,560 506,490 C506,440 519,403 541,380 C557,366 573,359 590,359 Z"/></clipPath>
<linearGradient id="bodyg" x1="0" y1="0" x2="0.3" y2="1">
<stop offset="0" stop-color="#7b6380"/>
<stop offset="0.5" stop-color="#735a78"/>
<stop offset="1" stop-color="#6c5271"/>
</linearGradient>
<linearGradient id="topfade" gradientUnits="userSpaceOnUse" x1="0" y1="360" x2="0" y2="1101">
<stop offset="0" stop-color="#f4dcd8" stop-opacity="0.9"/>
<stop offset="0.17" stop-color="#f0d2ce" stop-opacity="0.55"/>
<stop offset="0.3" stop-color="#f0d2ce" stop-opacity="0.0"/>
<stop offset="0.72" stop-color="#f0d2ce" stop-opacity="0.0"/>
<stop offset="1" stop-color="#f6e0dc" stop-opacity="0.6"/>
</linearGradient>
<linearGradient id="dmg" gradientUnits="userSpaceOnUse" x1="0" y1="360" x2="0" y2="1101">
<stop offset="0" stop-color="#000"/>
<stop offset="0.27" stop-color="#000"/>
<stop offset="0.35" stop-color="#fff"/>
<stop offset="0.72" stop-color="#fff"/>
<stop offset="0.84" stop-color="#666"/>
<stop offset="1" stop-color="#333"/>
</linearGradient>
<linearGradient id="mtg" gradientUnits="userSpaceOnUse" x1="0" y1="360" x2="0" y2="1101">
<stop offset="0" stop-color="#000"/>
<stop offset="0.1" stop-color="#222"/>
<stop offset="0.2" stop-color="#999"/>
<stop offset="0.27" stop-color="#fff"/>
<stop offset="0.35" stop-color="#000"/>
<stop offset="1" stop-color="#000"/>
</linearGradient>
<linearGradient id="mtgh" gradientUnits="userSpaceOnUse" x1="0" y1="360" x2="0" y2="1101">
<stop offset="0" stop-color="#000"/>
<stop offset="0.05" stop-color="#888"/>
<stop offset="0.27" stop-color="#fff"/>
<stop offset="0.35" stop-color="#000"/>
<stop offset="1" stop-color="#000"/>
</linearGradient>
<mask id="mtop" maskUnits="userSpaceOnUse" x="400" y="300" width="500" height="850"><rect x="400" y="300" width="500" height="850" fill="url(#mtg)"/></mask>
<mask id="mtoph" maskUnits="userSpaceOnUse" x="400" y="300" width="500" height="850"><rect x="400" y="300" width="500" height="850" fill="url(#mtgh)"/></mask>
<linearGradient id="hmg" gradientUnits="userSpaceOnUse" x1="0" y1="360" x2="0" y2="1101">
<stop offset="0" stop-color="#000"/>
<stop offset="0.27" stop-color="#000"/>
<stop offset="0.35" stop-color="#fff"/>
<stop offset="1" stop-color="#fff"/>
</linearGradient>
<linearGradient id="sg" x1="0" y1="0" x2="0" y2="1">
<stop offset="0" stop-color="#7a2c30" stop-opacity="0"/>
<stop offset="0.6" stop-color="#6a2026" stop-opacity="0.7"/>
<stop offset="0.9" stop-color="#5a161c" stop-opacity="1"/>
<stop offset="1" stop-color="#5a161c" stop-opacity="0.3"/>
</linearGradient>
<linearGradient id="topbase" gradientUnits="userSpaceOnUse" x1="0" y1="360" x2="0" y2="660">
<stop offset="0" stop-color="#f6e4e2"/>
<stop offset="0.22" stop-color="#f0d6d4"/>
<stop offset="0.5" stop-color="#e0b2ae"/>
<stop offset="0.8" stop-color="#d8a29e"/>
<stop offset="1" stop-color="#d8a29e" stop-opacity="0"/>
</linearGradient>
<filter id="sb" x="-20%" y="-20%" width="140%" height="140%"><feGaussianBlur stdDeviation="2.5"/></filter>
<linearGradient id="dmgr" gradientUnits="userSpaceOnUse" x1="0" y1="360" x2="0" y2="1101">
<stop offset="0" stop-color="#000"/>
<stop offset="0.1" stop-color="#000"/>
<stop offset="0.24" stop-color="#fff"/>
<stop offset="0.7" stop-color="#fff"/>
<stop offset="0.8" stop-color="#555"/>
<stop offset="0.9" stop-color="#222"/>
<stop offset="1" stop-color="#111"/>
</linearGradient>
<linearGradient id="hmgr" gradientUnits="userSpaceOnUse" x1="0" y1="360" x2="0" y2="1101">
<stop offset="0" stop-color="#000"/>
<stop offset="0.1" stop-color="#000"/>
<stop offset="0.24" stop-color="#ccc"/>
<stop offset="0.35" stop-color="#fff"/>
<stop offset="1" stop-color="#fff"/>
</linearGradient>
<mask id="dmr" maskUnits="userSpaceOnUse" x="400" y="300" width="500" height="850"><rect x="400" y="300" width="500" height="850" fill="url(#dmgr)"/></mask>
<mask id="hmr" maskUnits="userSpaceOnUse" x="400" y="300" width="500" height="850"><rect x="400" y="300" width="500" height="850" fill="url(#hmgr)"/></mask>
<mask id="dm" maskUnits="userSpaceOnUse" x="400" y="300" width="500" height="850"><rect x="400" y="300" width="500" height="850" fill="url(#dmg)"/></mask>
<mask id="hm" maskUnits="userSpaceOnUse" x="400" y="300" width="500" height="850"><rect x="400" y="300" width="500" height="850" fill="url(#hmg)"/></mask>
<linearGradient id="edg" gradientUnits="userSpaceOnUse" x1="0" y1="430" x2="0" y2="680">
<stop offset="0" stop-color="#6a2228" stop-opacity="0"/>
<stop offset="0.3" stop-color="#6a2228" stop-opacity="0.55"/>
<stop offset="0.7" stop-color="#5a1a20" stop-opacity="0.5"/>
<stop offset="1" stop-color="#5a1a20" stop-opacity="0"/>
</linearGradient>
<filter id="blur3" x="-50%" y="-50%" width="200%" height="200%"><feGaussianBlur stdDeviation="3"/></filter>
<filter id="blur8" x="-50%" y="-50%" width="200%" height="200%"><feGaussianBlur stdDeviation="8"/></filter>
<filter id="rb" x="-10%" y="-10%" width="120%" height="120%"><feGaussianBlur stdDeviation="1.2"/></filter>
</defs>
<ellipse cx="700" cy="1128" rx="420" ry="20" fill="#f3f3f3" filter="url(#blur8)" transform="rotate(2.5 700 1128)"/>
<ellipse cx="660" cy="1145" rx="130" ry="5" fill="#e2e2e2" filter="url(#blur3)"/>
<clipPath id="bc"><path d="M627,312 C642,312 650,313 657,315 C680,302.4 725,277.6 748,264.5 C760,257 768,253.7 781,253.7 C810,254 845,268 867,297 C880,314 890,330 889.5,350 C889,375 870,420 865,460 C862,500 880,540 895,585 C905,620 911,670 911,720 C911,800 897,880 861,960 C829,1027 798,1068 756,1098 C724,1121 684,1145 640,1146 C600,1147 560,1130 537,1104 C530,1096 524,1088 520,1080 C502,1050 495,1020 496,985 C497,940 512,880 524,825 C532,790 533,720 527,670 C520,620 500,560 497,510 C494,470 496,440 502,414 C510,385 525,360 546,345 C570,327 595,313 627,312 Z"/></clipPath>
<path d="M627,312 C642,312 650,313 657,315 C680,302.4 725,277.6 748,264.5 C760,257 768,253.7 781,253.7 C810,254 845,268 867,297 C880,314 890,330 889.5,350 C889,375 870,420 865,460 C862,500 880,540 895,585 C905,620 911,670 911,720 C911,800 897,880 861,960 C829,1027 798,1068 756,1098 C724,1121 684,1145 640,1146 C600,1147 560,1130 537,1104 C530,1096 524,1088 520,1080 C502,1050 495,1020 496,985 C497,940 512,880 524,825 C532,790 533,720 527,670 C520,620 500,560 497,510 C494,470 496,440 502,414 C510,385 525,360 546,345 C570,327 595,313 627,312 Z" fill="url(#bodyg)"/>
<g clip-path="url(#bc)">
<ellipse cx="590" cy="345" rx="95" ry="45" fill="#8a708e" fill-opacity="0.45" filter="url(#blur8)"/>
<ellipse cx="790" cy="268" rx="55" ry="18" fill="#836a88" fill-opacity="0.4" filter="url(#blur8)"/>
<ellipse cx="712" cy="338" rx="45" ry="14" fill="#5c4462" fill-opacity="0.18" filter="url(#blur8)" transform="rotate(25 712 338)"/>
</g>
<path d="M590,359 C640,362 680,420 716,504 C733,543.5 758.2,578.7 770,620 C781.3,659.4 786,701 786,742 C786,830 745,915 694,1000 C675,1035 652,1070 627,1088 C612,1098 602,1101 593,1101 C578,1101 562,1094 550,1082 C526,1066 509,1038 507,1000 C502,970 506,930 520,870 C535,810 540,720 530,660 C522,610 506,560 506,490 C506,440 519,403 541,380 C557,366 573,359 590,359 Z" fill="#efd2ce"/>
<g clip-path="url(#pc)">
<rect x="480" y="350" width="330" height="310" fill="url(#topbase)"/>
<g filter="url(#sb)"><rect x="516.5" y="480" width="3.0" height="85" rx="1.5" fill="url(#sg)" fill-opacity="0.90"/><rect x="543.5" y="485" width="3.0" height="80" rx="1.5" fill="url(#sg)" fill-opacity="0.90"/><rect x="567.0" y="420" width="6.0" height="135" rx="3.0" fill="url(#sg)" fill-opacity="0.45"/><rect x="596.5" y="440" width="7.0" height="116" rx="3.5" fill="url(#sg)" fill-opacity="0.75"/><rect x="623.5" y="450" width="5.0" height="106" rx="2.5" fill="url(#sg)" fill-opacity="0.40"/><rect x="640.5" y="455" width="11.0" height="103" rx="5.5" fill="url(#sg)" fill-opacity="1.00"/><rect x="675.5" y="465" width="15.0" height="103" rx="7.5" fill="url(#sg)" fill-opacity="1.00"/><rect x="718.0" y="515" width="16.0" height="185" rx="8.0" fill="url(#sg)" fill-opacity="1.00"/><rect x="767.5" y="590" width="9.0" height="110" rx="4.5" fill="url(#sg)" fill-opacity="0.90"/><rect x="527.0" y="400" width="6.0" height="170" rx="3.0" fill="#fff4f2" fill-opacity="0.50"/><rect x="581.0" y="380" width="8.0" height="180" rx="4.0" fill="#fff4f2" fill-opacity="0.70"/><rect x="610.5" y="380" width="7.0" height="180" rx="3.5" fill="#fff4f2" fill-opacity="0.60"/><rect x="655.0" y="390" width="16.0" height="170" rx="8.0" fill="#fff4f2" fill-opacity="0.75"/><rect x="697.0" y="430" width="14.0" height="170" rx="7.0" fill="#fff4f2" fill-opacity="0.45"/><rect x="745.0" y="540" width="14.0" height="160" rx="7.0" fill="#fff4f2" fill-opacity="0.60"/></g>
<g filter="url(#sb)"><path d="M645.7,430.0 648.0,435.0 650.0,440.0 652.0,445.0 654.0,450.0 656.0,455.0 658.1,460.0 660.0,465.0 661.9,470.0 663.6,475.0 665.6,480.0 667.2,485.0 669.2,490.0 671.0,495.0 672.6,500.0 674.6,505.0 676.2,510.0 678.4,515.0 680.1,520.0 682.2,525.0 684.4,530.0 686.5,535.0 688.8,540.0 691.0,545.0 693.2,550.0 695.5,555.0 697.6,560.0 700.0,565.0 702.1,570.0 704.4,575.0 706.5,580.0 708.5,585.0 710.5,590.0 712.5,595.0 714.2,600.0 716.0,605.0 717.7,610.0 719.3,615.0 720.7,620.0 721.9,625.0 723.1,630.0 724.3,635.0 725.5,640.0 726.5,645.0 727.5,650.0 728.5,655.0 729.2,660.0 730.1,665.0 730.9,670.0 731.6,675.0 732.1,680.0 769.5,680.0 769.0,675.0 768.3,670.0 767.5,665.0 766.5,660.0 765.8,655.0 764.8,650.0 763.8,645.0 762.8,640.0 761.6,635.0 760.3,630.0 759.1,625.0 757.9,620.0 756.4,615.0 754.7,610.0 753.0,605.0 751.0,600.0 749.1,595.0 746.9,590.0 744.7,585.0 742.5,580.0 740.1,575.0 737.7,570.0 735.2,565.0 732.6,560.0 730.2,555.0 727.5,550.0 725.1,545.0 722.5,540.0 719.9,535.0 717.5,530.0 715.1,525.0 712.7,520.0 710.5,515.0 708.1,510.0 706.2,505.0 703.8,500.0 701.9,495.0 699.8,490.0 697.4,485.0 695.5,480.0 693.2,475.0 691.0,470.0 688.7,465.0 686.3,460.0 683.8,455.0 681.2,450.0 678.6,445.0 676.1,440.0 673.5,435.0 670.5,430.0Z" fill="url(#edg)"/></g>
<g fill="none" stroke="#7a2c32" stroke-width="1.6" stroke-opacity="0.85" filter="url(#rb)">
<path d="M517,482 C515,505 519,530 527,552 C530,560 533,558 532,548 C529,525 524,500 517,482Z"/>
<path d="M543,492 C544,515 550,538 557,555 C561,560 562,556 560,546 C556,525 550,505 543,492Z"/>
<path d="M510,540 C512,570 518,600 524,630"/>
<path d="M514,530 C518,560 524,590 531,620"/>
</g>
<use href="#rd" filter="url(#rb)" mask="url(#dm)"/>
<use href="#rh" filter="url(#rb)" mask="url(#hm)"/>
<use href="#rdr" filter="url(#rb)" mask="url(#dmr)"/>
<use href="#rhr" filter="url(#rb)" mask="url(#hmr)"/>
</g>
<g id="badge">
<path d="M549,570 L679.5,568 Q683,568 684,571.5 L692.5,616 Q693,619.5 689.5,619.5 L559,620.5 Q555.5,620.5 554.8,617 L546,573.5 Q545.5,570 549,570Z" fill="#d6a29e" stroke="#f4d8d4" stroke-width="1.8"/>
<path d="M554,573.5 L676.5,572 L687.5,613.5 L562.5,615.5 Z" fill="#d29c98" stroke="#eccac6" stroke-width="1.3"/>
<g fill="none" stroke-linecap="butt">
<path d="M559.5,581 L567,606 M586.5,581.5 L593.5,606 M617,581.5 L624.5,606" stroke="#6e2226" stroke-width="2.4"/>
<path d="M568,606.3 L582.5,606.3 M591,581.2 L605,581.2 M593,592.8 L604,592.8 M594.5,606.3 L608,606.3 M625.5,606.3 L643.5,606.3" stroke="#8a3a3c" stroke-width="1"/>
<path d="M568,608 L582.5,608 M591,583 L605,583 M593,594.5 L604,594.5 M594.5,608 L608,608 M625.5,608 L643.5,608" stroke="#f8e0dc" stroke-width="1.6"/>
<ellipse cx="662.5" cy="594" rx="13" ry="13.5" stroke="#7a2a2e" stroke-width="1.8"/>
<ellipse cx="663.2" cy="594.6" rx="11" ry="11.6" stroke="#f8e2de" stroke-width="1.3"/>
</g>
</g>
<path d="M590,359 C640,362 680,420 716,504 C733,543.5 758.2,578.7 770,620 C781.3,659.4 786,701 786,742 C786,830 745,915 694,1000 C675,1035 652,1070 627,1088 C612,1098 602,1101 593,1101 C578,1101 562,1094 550,1082 C526,1066 509,1038 507,1000 C502,970 506,930 520,870 C535,810 540,720 530,660 C522,610 506,560 506,490 C506,440 519,403 541,380 C557,366 573,359 590,359 Z" fill="none" stroke="#5a2a30" stroke-width="1" stroke-opacity="0.6"/>
<g fill="none" stroke="#3e2c44" stroke-width="1.1" stroke-linecap="round" stroke-opacity="0.85">
<path d="M571,1115 L573,1118 M580,1125 L583,1129 M588,1131 L589,1135 M586,1138 L588,1139 M592,1118 L594,1120 M597,1122 C606,1125 613,1131 614,1139"/>
<path d="M638,1138 L650,1142 M643,1134 L652,1135 M648,1137 L649,1139 M659,1128 L670,1125 L677,1126 M664,1134 L676,1130 M681,1128 L695,1127"/>
</g>
<g fill="none" stroke="#111" stroke-width="1.5" stroke-dasharray="5 5.2">
<path d="M488,325.5 H648"/>
<path d="M861.5,252 V358"/>
<path d="M831,548.5 H964 V604"/>
<path d="M729,1070 V1198"/>
</g>
<g fill="none" stroke="#000" stroke-width="2.4">
<circle cx="448.3" cy="325.9" r="22.8"/>
<circle cx="861.1" cy="215.1" r="22.7"/>
<circle cx="963.7" cy="642.8" r="24.8"/>
<circle cx="729.7" cy="1239.1" r="24"/>
</g>
<path d="M441,320.2 L447.3,315.3 L451.1,315.3 L451.1,337.1 L446.2,337.1 L446.2,321.3 L443.6,323.6 Z" fill="#000"/>
<g fill="none" stroke="#000">
<path d="M854.8,210.2 C855.8,207.4 858.2,206.9 861,206.9 C864.2,206.9 866.6,208.7 866.6,211.4 C866.6,213.9 865.3,215.5 862.6,217.8" stroke-width="3.9"/>
<path d="M961,640.6 C968.3,640.2 972.1,643.6 972.1,647.5 C972.1,651.2 968.9,652.5 964.6,652.5 C961.3,652.5 958.6,651.6 956.6,649.6" stroke-width="3.8"/>
</g>
<g fill="#000">
<path d="M864.4,218.7 L858.8,223.3 L868.4,223.3 L868.4,226.8 L853,226.8 L853,223.7 L861.2,216.4 Z"/>
<path d="M956.2,630.4 L972.8,630.4 L972.8,633.3 L965.6,640.5 L960.3,640.7 L966.6,634.1 L956.2,634.1 Z"/>
<path d="M728.4,1227.9 L733.4,1227.9 L725.7,1241.5 L731.3,1241.5 L731.3,1237 L736.4,1237 L736.4,1241.5 L738.1,1241.5 L738.1,1244.9 L736.4,1244.9 L736.4,1250.1 L731.3,1250.1 L731.3,1244.9 L720.1,1244.9 Z"/>
</g>
</svg>
<div class="t" style="right:997px;top:279.7px;text-align:right"><span style="letter-spacing:0.26px;margin-right:-0.26px">WIDE RANGE</span><span style="letter-spacing:0.34px;margin-right:-0.34px">OF VIBRATIONS</span><span style="letter-spacing:0.3px;margin-right:-0.3px">AND SETTINGS</span></div>
<div class="t" style="left:908px;top:174.3px;line-height:41.2px"><span style="letter-spacing:0.5px">SONIC WAVES</span><span style="letter-spacing:0.78px">STIMULATION</span></div>
<div class="t" style="left:938px;top:683px"><span style="letter-spacing:-0.45px">TECHNOLOGY</span><span style="letter-spacing:-0.2px">ALLOWING</span><span style="letter-spacing:0.26px">UNINTERUPTED</span><span style="letter-spacing:-0.5px">PLEASURE</span></div>
<div class="t" style="left:360.2px;top:1218.5px;letter-spacing:0.32px">APP - CONNECTED</div>
</body></html>
